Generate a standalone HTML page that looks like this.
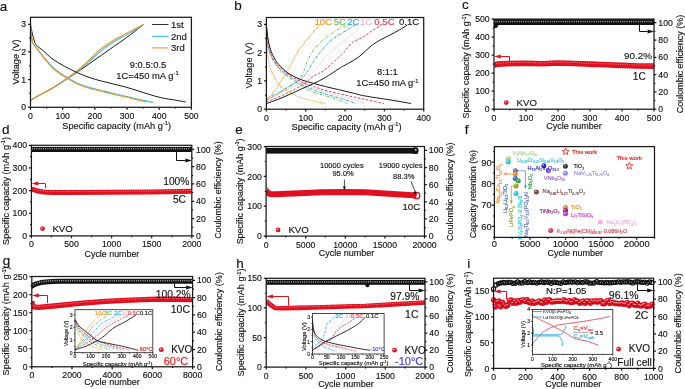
<!DOCTYPE html>
<html><head><meta charset="utf-8"><style>
html,body{margin:0;padding:0;background:#fff;width:685px;height:389px;overflow:hidden}
svg{display:block;will-change:transform}
text{font-family:"Liberation Sans", sans-serif;stroke:currentColor;stroke-width:0.15px;paint-order:stroke}
</style></head><body>
<svg width="685" height="389" viewBox="0 0 685 389">
<rect width="685" height="389" fill="#fff"/>
<text x="-0.3" y="10.8" font-size="13.5" text-anchor="start" fill="#111" color="#111" >a</text>
<text x="234.3" y="10.3" font-size="13.5" text-anchor="start" fill="#111" color="#111" >b</text>
<text x="462" y="8.8" font-size="13.5" text-anchor="start" fill="#111" color="#111" >c</text>
<text x="2" y="133.8" font-size="13.5" text-anchor="start" fill="#111" color="#111" >d</text>
<text x="235.2" y="134" font-size="13.5" text-anchor="start" fill="#111" color="#111" >e</text>
<text x="464.8" y="133.7" font-size="13.5" text-anchor="start" fill="#111" color="#111" >f</text>
<text x="2.8" y="265" font-size="13.5" text-anchor="start" fill="#111" color="#111" >g</text>
<text x="236.3" y="267.6" font-size="13.5" text-anchor="start" fill="#111" color="#111" >h</text>
<text x="467.2" y="268" font-size="13.5" text-anchor="start" fill="#111" color="#111" >i</text>
<path d="M30.5 100.38 C32.11 99.46 36.51 96.88 40.15 94.85 C43.8 92.82 48.31 90.61 52.38 88.21 C56.46 85.81 60.53 83.09 64.61 80.46 C68.69 77.83 72.76 75.2 76.84 72.44 C80.92 69.67 84.99 66.72 89.07 63.86 C93.14 61 97.22 58.14 101.3 55.28 C105.37 52.42 109.45 49.56 113.52 46.7 C117.6 43.85 122.16 40.71 125.75 38.13 C129.35 35.54 132.24 33.42 135.09 31.21 C137.93 29 141.52 25.91 142.81 24.85" stroke="#1a1a1a" stroke-width="1.0" fill="none" stroke-linejoin="round" />
<path d="M30.5 100.38 C32.11 99.46 36.51 96.88 40.15 94.85 C43.8 92.82 48.31 90.61 52.38 88.21 C56.46 85.81 60.53 83.14 64.61 80.46 C68.69 77.79 72.76 75.3 76.84 72.16 C80.92 69.02 84.99 65.24 89.07 61.65 C93.14 58.05 97.22 53.85 101.3 50.58 C105.37 47.3 109.45 44.54 113.52 42 C117.6 39.46 121.89 37.53 125.75 35.36 C129.61 33.19 133.64 30.79 136.69 29 C139.75 27.2 142.86 25.31 144.1 24.57" stroke="#33bbee" stroke-width="1.1" fill="none" stroke-linejoin="round" />
<path d="M30.5 100.38 C32.11 99.46 36.51 96.92 40.15 94.85 C43.8 92.77 48.31 90.42 52.38 87.93 C56.46 85.44 60.53 82.72 64.61 79.91 C68.69 77.09 72.76 74.37 76.84 71.05 C80.92 67.73 84.99 63.72 89.07 59.99 C93.14 56.25 97.22 51.92 101.3 48.64 C105.37 45.37 109.45 42.83 113.52 40.34 C117.6 37.85 121.89 35.77 125.75 33.7 C129.61 31.62 133.8 29.41 136.69 27.89 C139.59 26.37 142.06 25.12 143.13 24.57" stroke="#f7941d" stroke-width="1.1" fill="none" stroke-linejoin="round" />
<path d="M30.5 24.85 C30.82 26.37 31.79 31.3 32.43 33.98 C33.07 36.65 33.66 38.96 34.36 40.89 C35.06 42.83 35.22 44.03 36.61 45.6 C38.01 47.17 40.1 48.09 42.73 50.3 C45.36 52.51 48.74 56.2 52.38 58.88 C56.03 61.55 60.53 64.09 64.61 66.35 C68.69 68.61 72.76 70.59 76.84 72.44 C80.92 74.28 84.99 75.99 89.07 77.42 C93.14 78.85 97.22 79.91 101.3 81.01 C105.37 82.12 109.45 83.04 113.52 84.06 C117.6 85.07 121.89 86.04 125.75 87.1 C129.61 88.16 132.99 89.27 136.69 90.42 C140.39 91.57 143.77 92.77 147.96 94.02 C152.14 95.26 157.24 96.88 161.79 97.89 C166.35 98.91 171.34 99.41 175.31 100.11 C179.28 100.8 183.89 101.72 185.61 102.04" stroke="#1a1a1a" stroke-width="1.0" fill="none" stroke-linejoin="round" />
<path d="M30.5 24.85 C30.61 26.14 30.93 30.15 31.14 32.59 C31.36 35.04 31.47 37.67 31.79 39.51 C32.11 41.35 32.48 42.46 33.07 43.66 C33.66 44.86 33.72 44.68 35.33 46.7 C36.94 48.73 39.89 52.47 42.73 55.84 C45.57 59.2 48.74 63.54 52.38 66.9 C56.03 70.27 60.53 73.36 64.61 76.03 C68.69 78.71 72.76 81.06 76.84 82.95 C80.92 84.84 84.99 86.13 89.07 87.38 C93.14 88.62 97.22 89.41 101.3 90.42 C105.37 91.44 109.45 92.5 113.52 93.47 C117.6 94.43 121.35 95.22 125.75 96.23 C130.15 97.25 135.35 98.54 139.91 99.55 C144.47 100.57 150.91 101.86 153.11 102.32" stroke="#33bbee" stroke-width="1.1" fill="none" stroke-linejoin="round" />
<path d="M30.5 24.85 C30.61 26.04 30.93 29.83 31.14 32.04 C31.36 34.25 31.47 36.28 31.79 38.13 C32.11 39.97 32.48 41.72 33.07 43.11 C33.66 44.49 33.72 44.21 35.33 46.43 C36.94 48.64 39.89 52.84 42.73 56.39 C45.57 59.94 48.74 64.32 52.38 67.73 C56.03 71.15 60.53 74.19 64.61 76.86 C68.69 79.54 72.76 81.89 76.84 83.78 C80.92 85.67 84.99 86.96 89.07 88.21 C93.14 89.45 97.22 90.24 101.3 91.25 C105.37 92.27 109.45 93.33 113.52 94.3 C117.6 95.26 121.89 96.14 125.75 97.06 C129.61 97.98 133.15 99 136.69 99.83 C140.23 100.66 145.28 101.67 146.99 102.04" stroke="#f7941d" stroke-width="1.1" fill="none" stroke-linejoin="round" />
<path d="M30.5 107.3v2.4M62.68 107.3v2.4M94.86 107.3v2.4M127.04 107.3v2.4M159.22 107.3v2.4M191.4 107.3v2.4M46.59 107.3v1.3M78.77 107.3v1.3M110.95 107.3v1.3M143.13 107.3v1.3M175.31 107.3v1.3M30.5 107.3h-2.4M30.5 79.63h-2.4M30.5 51.96h-2.4M30.5 24.29h-2.4M30.5 93.47h-1.3M30.5 65.8h-1.3M30.5 38.13h-1.3" stroke="#1a1a1a" stroke-width="1.25" fill="none"/>
<rect x="30.5" y="17.3" width="160.9" height="90" stroke="#1a1a1a" stroke-width="1.25" fill="none"/>
<text x="30.5" y="118.7" font-size="8.7" text-anchor="middle" fill="#151515" color="#151515" >0</text>
<text x="62.68" y="118.7" font-size="8.7" text-anchor="middle" fill="#151515" color="#151515" >100</text>
<text x="94.86" y="118.7" font-size="8.7" text-anchor="middle" fill="#151515" color="#151515" >200</text>
<text x="127.04" y="118.7" font-size="8.7" text-anchor="middle" fill="#151515" color="#151515" >300</text>
<text x="159.22" y="118.7" font-size="8.7" text-anchor="middle" fill="#151515" color="#151515" >400</text>
<text x="191.4" y="118.7" font-size="8.7" text-anchor="middle" fill="#151515" color="#151515" >500</text>
<text x="26.2" y="110.43" font-size="8.7" text-anchor="end" fill="#151515" color="#151515" >0</text>
<text x="26.2" y="82.76" font-size="8.7" text-anchor="end" fill="#151515" color="#151515" >1</text>
<text x="26.2" y="55.09" font-size="8.7" text-anchor="end" fill="#151515" color="#151515" >2</text>
<text x="26.2" y="27.42" font-size="8.7" text-anchor="end" fill="#151515" color="#151515" >3</text>
<text x="116.65" y="128.8" font-size="9.2" text-anchor="middle" fill="#151515" color="#151515" >Specific capacity (mAh g<tspan dy="-3.50" font-size="5.70">-1</tspan><tspan dy="3.50">)</tspan></text>
<text transform="translate(18.6 61.9) rotate(-90)" font-size="9.1" text-anchor="middle" fill="#151515" color="#151515">Voltage (V)</text>
<path d="M152 24.5h16.5" stroke="#1a1a1a" stroke-width="0.9"/>
<text x="171" y="27.8" font-size="9.5" text-anchor="start" fill="#151515" color="#151515" >1st</text>
<path d="M152 36.3h16.5" stroke="#33bbee" stroke-width="1.1"/>
<text x="171" y="39.6" font-size="9.5" text-anchor="start" fill="#151515" color="#151515" >2nd</text>
<path d="M152 47.9h16.5" stroke="#f9a85a" stroke-width="1.4"/>
<text x="171" y="51.2" font-size="9.5" text-anchor="start" fill="#151515" color="#151515" >3rd</text>
<text x="148" y="67.7" font-size="9.4" text-anchor="middle" fill="#151515" color="#151515" >9:0.5:0.5</text>
<text x="147.5" y="79" font-size="9.4" text-anchor="middle" fill="#151515" color="#151515" >1C=450 mA g<tspan dy="-3.57" font-size="5.83">-1</tspan></text>
<path d="M266.4 101.28 C267.19 100.24 269.37 97.31 271.12 95.05 C272.87 92.79 275.06 90.29 276.9 87.69 C278.73 85.1 280.31 82.41 282.13 79.49 C283.95 76.56 286 73.31 287.83 70.15 C289.67 66.99 291.34 63.78 293.14 60.52 C294.94 57.27 296.81 53.54 298.65 50.62 C300.48 47.69 302.32 45.34 304.15 42.98 C305.99 40.62 307.95 38.54 309.66 36.47 C311.36 34.39 312.93 32.18 314.38 30.53 C315.82 28.88 317.33 27.6 318.31 26.56 C319.29 25.53 319.95 24.68 320.28 24.3" stroke="#f7941d" stroke-width="1.1" fill="none" stroke-linejoin="round" stroke-dasharray="0.1 1.9" stroke-linecap="round"/>
<path d="M266.4 25.15 C266.45 27.37 266.58 34.82 266.71 38.45 C266.85 42.08 266.81 42.93 267.19 46.94 C267.57 50.95 268.34 58.64 269 62.51 C269.65 66.37 270.31 67.88 271.12 70.15 C271.93 72.41 272.17 73.21 273.87 76.09 C275.58 78.97 278 84.3 281.34 87.41 C284.69 90.52 290.19 92.93 293.93 94.77 C297.66 96.61 300.45 97.41 303.76 98.45 C307.07 99.48 310.31 100.14 313.79 100.99 C317.26 101.84 322.8 103.12 324.6 103.54" stroke="#f7941d" stroke-width="1.1" fill="none" stroke-linejoin="round" stroke-dasharray="0.1 1.9" stroke-linecap="round"/>
<path d="M266.4 98.73 C268.04 97.88 272.5 95.52 276.23 93.64 C279.97 91.75 284.62 90.33 288.82 87.41 C293.01 84.48 298.25 80.66 301.4 76.09 C304.55 71.51 305.63 64.34 307.69 59.96 C309.76 55.57 311.82 52.55 313.79 49.77 C315.75 46.99 317.42 45.34 319.49 43.26 C321.55 41.19 324.01 39.06 326.17 37.32 C328.34 35.57 330.37 34.21 332.47 32.79 C334.56 31.38 336.66 29.91 338.76 28.83 C340.86 27.74 342.98 27.04 345.05 26.28 C347.12 25.53 350.16 24.63 351.18 24.3" stroke="#6cbd45" stroke-width="1.0" fill="none" stroke-linejoin="round" stroke-dasharray="2.6 1 0.6 1 0.6 1" />
<path d="M266.4 25.15 C266.53 27.37 266.86 34.58 267.19 38.45 C267.51 42.32 267.65 45.2 268.37 48.36 C269.09 51.52 270.16 54.44 271.51 57.41 C272.87 60.38 274.74 63.68 276.51 66.18 C278.28 68.68 280.08 70.57 282.13 72.41 C284.18 74.25 285.6 74.96 288.82 77.22 C292.03 79.49 297.24 83.49 301.4 85.99 C305.56 88.49 309.66 90.57 313.79 92.22 C317.92 93.87 322.27 94.72 326.17 95.9 C330.07 97.08 333.65 98.02 337.19 99.3 C340.72 100.57 345.71 102.83 347.41 103.54" stroke="#6cbd45" stroke-width="1.0" fill="none" stroke-linejoin="round" stroke-dasharray="2.6 1 0.6 1 0.6 1" />
<path d="M266.4 100.14 C268.37 99.06 274.46 95.95 278.2 93.64 C281.93 91.32 284.95 88.73 288.82 86.28 C292.68 83.82 298.25 81.47 301.4 78.92 C304.55 76.37 305.63 73.97 307.69 71 C309.76 68.02 311.75 64.16 313.79 61.09 C315.82 58.02 317.82 55.29 319.88 52.6 C321.95 49.91 324.08 47.18 326.17 44.96 C328.27 42.74 330.37 40.95 332.47 39.3 C334.56 37.65 336.33 36.61 338.76 35.05 C341.18 33.5 344.07 31.75 347.02 29.96 C349.97 28.17 354.88 25.24 356.45 24.3" stroke="#27a9e1" stroke-width="1.0" fill="none" stroke-linejoin="round" stroke-dasharray="2.8 1 0.7 1" />
<path d="M266.4 25.15 C266.53 27.13 266.86 33.4 267.19 37.04 C267.51 40.67 267.65 43.69 268.37 46.94 C269.09 50.19 270.16 53.54 271.51 56.56 C272.87 59.58 274.74 62.65 276.51 65.05 C278.28 67.46 280.08 69.16 282.13 71 C284.18 72.83 285.6 73.87 288.82 76.09 C292.03 78.31 297.24 81.98 301.4 84.3 C305.56 86.61 309.66 88.31 313.79 89.96 C317.92 91.61 321.62 92.79 326.17 94.2 C330.73 95.62 336.14 96.89 341.12 98.45 C346.1 100 353.57 102.69 356.06 103.54" stroke="#27a9e1" stroke-width="1.0" fill="none" stroke-linejoin="round" stroke-dasharray="2.8 1 0.7 1" />
<path d="M266.4 100.71 C269.02 99.3 276.3 95.24 282.13 92.22 C287.96 89.2 297.14 84.96 301.4 82.6 C305.66 80.24 305.63 79.96 307.69 78.07 C309.76 76.18 311.75 73.64 313.79 71.28 C315.82 68.92 317.82 66.47 319.88 63.92 C321.95 61.37 324.08 58.26 326.17 56 C328.27 53.73 330.37 52.18 332.47 50.34 C334.56 48.5 336.33 46.94 338.76 44.96 C341.18 42.98 344.33 40.71 347.02 38.45 C349.7 36.19 352.33 33.73 354.88 31.38 C357.44 29.02 361.11 25.48 362.35 24.3" stroke="#f6b4d0" stroke-width="1.0" fill="none" stroke-linejoin="round" stroke-dasharray="0.1 1.6" stroke-linecap="round"/>
<path d="M266.4 25.15 C266.53 26.99 266.86 32.79 267.19 36.19 C267.51 39.58 267.65 42.22 268.37 45.53 C269.09 48.83 270.16 52.84 271.51 56 C272.87 59.16 274.74 62.13 276.51 64.49 C278.28 66.84 280.08 68.35 282.13 70.15 C284.18 71.94 285.6 73.12 288.82 75.24 C292.03 77.36 297.24 80.71 301.4 82.88 C305.56 85.05 309.66 86.7 313.79 88.26 C317.92 89.81 320.96 90.71 326.17 92.22 C331.38 93.73 338.69 95.52 345.05 97.31 C351.41 99.11 361.11 102.03 364.32 102.97" stroke="#f6b4d0" stroke-width="1.0" fill="none" stroke-linejoin="round" stroke-dasharray="0.1 1.6" stroke-linecap="round"/>
<path d="M266.4 102.13 C269.68 100.71 280.16 96.47 286.06 93.64 C291.96 90.81 297.17 88.07 301.79 85.15 C306.41 82.22 310.77 78.12 313.79 76.09 C316.8 74.06 317.82 74.2 319.88 72.98 C321.95 71.75 324.08 70.38 326.17 68.73 C328.27 67.08 330.37 64.96 332.47 63.07 C334.56 61.18 336.88 59.16 338.76 57.41 C340.63 55.67 341.42 55.1 343.71 52.6 C346.01 50.1 349.48 44.91 352.52 42.41 C355.56 39.91 358.62 39.58 361.96 37.6 C365.3 35.62 369.17 32.74 372.58 30.53 C375.99 28.31 380.77 25.34 382.41 24.3" stroke="#e5404f" stroke-width="1.0" fill="none" stroke-linejoin="round" stroke-dasharray="2.6 1.6" />
<path d="M266.4 25.15 C266.53 26.89 266.86 32.37 267.19 35.62 C267.51 38.87 267.65 41.37 268.37 44.68 C269.09 47.98 270.16 52.22 271.51 55.43 C272.87 58.64 274.74 61.61 276.51 63.92 C278.28 66.23 280.08 67.5 282.13 69.3 C284.18 71.09 285.6 72.6 288.82 74.67 C292.03 76.75 297.24 79.77 301.4 81.75 C305.56 83.73 309.66 85.1 313.79 86.56 C317.92 88.02 320.96 89.11 326.17 90.52 C331.38 91.94 338.63 93.59 345.05 95.05 C351.47 96.51 358.22 97.88 364.71 99.3 C371.2 100.71 380.77 102.83 383.98 103.54" stroke="#e5404f" stroke-width="1.0" fill="none" stroke-linejoin="round" stroke-dasharray="2.6 1.6" />
<path d="M266.4 103.54 C268.37 102.83 274.46 100.76 278.2 99.3 C281.93 97.83 284.88 96.51 288.82 94.77 C292.75 93.02 297.63 90.71 301.79 88.82 C305.95 86.94 309.85 85.33 313.79 83.45 C317.72 81.56 321.23 79.96 325.39 77.5 C329.55 75.05 335.71 70.67 338.76 68.73 C341.81 66.8 341.25 67.27 343.67 65.9 C346.1 64.53 350.59 62.18 353.31 60.52 C356.03 58.87 357.9 57.65 359.99 56 C362.09 54.35 363.83 52.46 365.89 50.62 C367.96 48.78 369.96 46.75 372.38 44.96 C374.81 43.17 377.53 41.52 380.44 39.87 C383.36 38.21 386.73 36.71 389.88 35.05 C393.03 33.4 396.43 31.61 399.32 29.96 C402.2 28.31 405.87 25.95 407.18 25.15" stroke="#1a1a1a" stroke-width="1.0" fill="none" stroke-linejoin="round" />
<path d="M266.4 25.15 C266.6 26.89 267.15 32.46 267.58 35.62 C268.01 38.78 268.41 41.52 269 44.11 C269.59 46.7 270.31 48.97 271.12 51.19 C271.93 53.4 272.56 55.15 273.87 57.41 C275.18 59.68 276.49 62.08 278.98 64.77 C281.47 67.46 285.08 71.04 288.82 73.54 C292.55 76.04 297.24 78.12 301.4 79.77 C305.56 81.42 309.79 82.32 313.79 83.45 C317.78 84.58 321.23 85.52 325.39 86.56 C329.55 87.6 334.17 88.59 338.76 89.67 C343.35 90.76 348.59 92.03 352.91 93.07 C357.24 94.11 358.55 94.77 364.71 95.9 C370.87 97.03 382.15 98.59 389.88 99.86 C397.61 101.13 407.58 102.93 411.12 103.54" stroke="#1a1a1a" stroke-width="1.0" fill="none" stroke-linejoin="round" />
<path d="M266.4 109.2v2.4M305.72 109.2v2.4M345.05 109.2v2.4M384.38 109.2v2.4M423.7 109.2v2.4M286.06 109.2v1.3M325.39 109.2v1.3M364.71 109.2v1.3M404.04 109.2v1.3M266.4 109.2h-2.4M266.4 80.9h-2.4M266.4 52.6h-2.4M266.4 24.3h-2.4M266.4 95.05h-1.3M266.4 66.75h-1.3M266.4 38.45h-1.3" stroke="#1a1a1a" stroke-width="1.25" fill="none"/>
<rect x="266.4" y="17.5" width="157.3" height="91.7" stroke="#1a1a1a" stroke-width="1.25" fill="none"/>
<text x="266.4" y="120.6" font-size="8.7" text-anchor="middle" fill="#151515" color="#151515" >0</text>
<text x="305.72" y="120.6" font-size="8.7" text-anchor="middle" fill="#151515" color="#151515" >100</text>
<text x="345.05" y="120.6" font-size="8.7" text-anchor="middle" fill="#151515" color="#151515" >200</text>
<text x="384.38" y="120.6" font-size="8.7" text-anchor="middle" fill="#151515" color="#151515" >300</text>
<text x="423.7" y="120.6" font-size="8.7" text-anchor="middle" fill="#151515" color="#151515" >400</text>
<text x="262.1" y="112.33" font-size="8.7" text-anchor="end" fill="#151515" color="#151515" >0</text>
<text x="262.1" y="84.03" font-size="8.7" text-anchor="end" fill="#151515" color="#151515" >1</text>
<text x="262.1" y="55.73" font-size="8.7" text-anchor="end" fill="#151515" color="#151515" >2</text>
<text x="262.1" y="27.43" font-size="8.7" text-anchor="end" fill="#151515" color="#151515" >3</text>
<text x="346.6" y="129.7" font-size="9.3" text-anchor="middle" fill="#151515" color="#151515" >Specific capacity (mAh g<tspan dy="-3.53" font-size="5.77">-1</tspan><tspan dy="3.53">)</tspan></text>
<text transform="translate(251.6 65.45) rotate(-90)" font-size="9.3" text-anchor="middle" fill="#151515" color="#151515">Voltage (V)</text>
<text x="314.4" y="25.4" font-size="9.6" text-anchor="start" fill="#f7941d" color="#f7941d" >10C</text>
<text x="333.7" y="25.4" font-size="9.6" text-anchor="start" fill="#6cbd45" color="#6cbd45" >5C</text>
<text x="347.2" y="25.4" font-size="9.6" text-anchor="start" fill="#27a9e1" color="#27a9e1" >2C</text>
<text x="360" y="25.4" font-size="9.6" text-anchor="start" fill="#f6b4d0" color="#f6b4d0" >1C</text>
<text x="374.3" y="25.4" font-size="9.6" text-anchor="start" fill="#e5404f" color="#e5404f" >0.5C</text>
<text x="399" y="25.4" font-size="9.6" text-anchor="start" fill="#1a1a1a" color="#1a1a1a" >0.1C</text>
<text x="387.4" y="74.9" font-size="9.4" text-anchor="middle" fill="#151515" color="#151515" >8:1:1</text>
<text x="387.4" y="86.1" font-size="9.4" text-anchor="middle" fill="#151515" color="#151515" >1C=450 mA g<tspan dy="-3.57" font-size="5.83">-1</tspan></text>
<rect x="494" y="19.1" width="160" height="5.9" fill="#111"/>
<path d="M495.1 20.9v1.4M497.3 20.9v1.4M499.5 20.9v1.4M501.7 20.9v1.4M503.9 20.9v1.4M506.1 20.9v1.4M508.3 20.9v1.4M510.5 20.9v1.4M512.7 20.9v1.4M514.9 20.9v1.4M517.1 20.9v1.4M519.3 20.9v1.4M521.5 20.9v1.4M523.7 20.9v1.4M525.9 20.9v1.4M528.1 20.9v1.4M530.3 20.9v1.4M532.5 20.9v1.4M534.7 20.9v1.4M536.9 20.9v1.4M539.1 20.9v1.4M541.3 20.9v1.4M543.5 20.9v1.4M545.7 20.9v1.4M547.9 20.9v1.4M550.1 20.9v1.4M552.3 20.9v1.4M554.5 20.9v1.4M556.7 20.9v1.4M558.9 20.9v1.4M561.1 20.9v1.4M563.3 20.9v1.4M565.5 20.9v1.4M567.7 20.9v1.4M569.9 20.9v1.4M572.1 20.9v1.4M574.3 20.9v1.4M576.5 20.9v1.4M578.7 20.9v1.4M580.9 20.9v1.4M583.1 20.9v1.4M585.3 20.9v1.4M587.5 20.9v1.4M589.7 20.9v1.4M591.9 20.9v1.4M594.1 20.9v1.4M596.3 20.9v1.4M598.5 20.9v1.4M600.7 20.9v1.4M602.9 20.9v1.4M605.1 20.9v1.4M607.3 20.9v1.4M609.5 20.9v1.4M611.7 20.9v1.4M613.9 20.9v1.4M616.1 20.9v1.4M618.3 20.9v1.4M620.5 20.9v1.4M622.7 20.9v1.4M624.9 20.9v1.4M627.1 20.9v1.4M629.3 20.9v1.4M631.5 20.9v1.4M633.7 20.9v1.4M635.9 20.9v1.4M638.1 20.9v1.4M640.3 20.9v1.4M642.5 20.9v1.4M644.7 20.9v1.4M646.9 20.9v1.4M649.1 20.9v1.4M651.3 20.9v1.4" stroke="#b0b0b0" stroke-width="1" fill="none"/>
<path d="M494 24 L494 27.9 L496.3 27.9 Q498.3 27.3 498.6 24.2 Z" fill="#111"/>
<clipPath id="cp1"><rect x="494" y="19.1" width="160" height="90.1"/></clipPath><g clip-path="url(#cp1)">
<path d="M494 65.23 L497.2 64.15 L506.8 63.61 L526 63.25 L542 63.79 L558 63.07 L574 63.43 L590 64.15 L606 64.69 L622 65.41 L638 65.95 L654 66.13" stroke="#e01020" stroke-width="5.6" fill="none" stroke-linejoin="round" stroke-linecap="butt"/>
<path d="M494 64.33 L497.2 63.25 L506.8 62.71 L526 62.35 L542 62.89 L558 62.17 L574 62.53 L590 63.25 L606 63.79 L622 64.51 L638 65.05 L654 65.23" stroke="#f6b0b0" stroke-width="0.9" stroke-dasharray="0.9 1.4" fill="none" opacity="0.9"/>
</g>
<path d="M639.5 25V31.5H647.6" stroke="#111" stroke-width="1.0" fill="none"/>
<path d="M654 31.5L647.6 29.5L647.6 33.5Z" fill="#111"/>
<path d="M500.9 56.5H509.5V62" stroke="#e01020" stroke-width="1.0" fill="none"/>
<path d="M494.1 56.5L500.9 54.5L500.9 58.5Z" fill="#e01020"/>
<path d="M494 109.2v2.4M526 109.2v2.4M558 109.2v2.4M590 109.2v2.4M622 109.2v2.4M654 109.2v2.4M510 109.2v1.3M542 109.2v1.3M574 109.2v1.3M606 109.2v1.3M638 109.2v1.3M494 109.2h-2.4M494 91.18h-2.4M494 73.16h-2.4M494 55.14h-2.4M494 37.12h-2.4M494 19.1h-2.4M494 100.19h-1.3M494 82.17h-1.3M494 64.15h-1.3M494 46.13h-1.3M494 28.11h-1.3M654 109.2h2.4M654 91.91h2.4M654 74.61h2.4M654 57.32h2.4M654 40.03h2.4M654 22.73h2.4M654 100.55h1.3M654 83.26h1.3M654 65.97h1.3M654 48.67h1.3M654 31.38h1.3" stroke="#1a1a1a" stroke-width="1.25" fill="none"/>
<rect x="494" y="19.1" width="160" height="90.1" stroke="#1a1a1a" stroke-width="1.25" fill="none"/>
<text x="494" y="120.6" font-size="8.7" text-anchor="middle" fill="#151515" color="#151515" >0</text>
<text x="526" y="120.6" font-size="8.7" text-anchor="middle" fill="#151515" color="#151515" >100</text>
<text x="558" y="120.6" font-size="8.7" text-anchor="middle" fill="#151515" color="#151515" >200</text>
<text x="590" y="120.6" font-size="8.7" text-anchor="middle" fill="#151515" color="#151515" >300</text>
<text x="622" y="120.6" font-size="8.7" text-anchor="middle" fill="#151515" color="#151515" >400</text>
<text x="654" y="120.6" font-size="8.7" text-anchor="middle" fill="#151515" color="#151515" >500</text>
<text x="489.7" y="112.33" font-size="8.7" text-anchor="end" fill="#151515" color="#151515" >0</text>
<text x="489.7" y="94.31" font-size="8.7" text-anchor="end" fill="#151515" color="#151515" >100</text>
<text x="489.7" y="76.29" font-size="8.7" text-anchor="end" fill="#151515" color="#151515" >200</text>
<text x="489.7" y="58.27" font-size="8.7" text-anchor="end" fill="#151515" color="#151515" >300</text>
<text x="489.7" y="40.25" font-size="8.7" text-anchor="end" fill="#151515" color="#151515" >400</text>
<text x="489.7" y="22.23" font-size="8.7" text-anchor="end" fill="#151515" color="#151515" >500</text>
<text x="658.3" y="112.33" font-size="8.7" text-anchor="start" fill="#151515" color="#151515" >0</text>
<text x="658.3" y="95.04" font-size="8.7" text-anchor="start" fill="#151515" color="#151515" >20</text>
<text x="658.3" y="77.74" font-size="8.7" text-anchor="start" fill="#151515" color="#151515" >40</text>
<text x="658.3" y="60.45" font-size="8.7" text-anchor="start" fill="#151515" color="#151515" >60</text>
<text x="658.3" y="43.16" font-size="8.7" text-anchor="start" fill="#151515" color="#151515" >80</text>
<text x="658.3" y="25.86" font-size="8.7" text-anchor="start" fill="#151515" color="#151515" >100</text>
<text x="638" y="59.4" font-size="9.9" text-anchor="middle" fill="#151515" color="#151515" >90.2%</text>
<text x="639.3" y="79.7" font-size="10.2" text-anchor="middle" fill="#151515" color="#151515" >1C</text>
<circle cx="506.2" cy="102.6" r="2.4" fill="#e01020"/>
<circle cx="505.6" cy="102" r="0.84" fill="#f7c0c0"/>
<text x="516.6" y="105.8" font-size="9.6" text-anchor="start" fill="#151515" color="#151515" >KVO</text>
<text x="574" y="128.9" font-size="9.0" text-anchor="middle" fill="#151515" color="#151515" >Cycle number</text>
<text transform="translate(469 66) rotate(-90)" font-size="8.9" text-anchor="middle" fill="#151515" color="#151515">Specific capacity (mAh g<tspan dy="-3.38" font-size="5.52">-1</tspan><tspan dy="3.38">)</tspan></text>
<text transform="translate(683 64) rotate(-90)" font-size="8.96" text-anchor="middle" fill="#151515" color="#151515">Coulombic efficiency (%)</text>
<rect x="31.4" y="146.9" width="160.4" height="5.1" fill="#111"/>
<path d="M32.5 148v1.4M34.7 148v1.4M36.9 148v1.4M39.1 148v1.4M41.3 148v1.4M43.5 148v1.4M45.7 148v1.4M47.9 148v1.4M50.1 148v1.4M52.3 148v1.4M54.5 148v1.4M56.7 148v1.4M58.9 148v1.4M61.1 148v1.4M63.3 148v1.4M65.5 148v1.4M67.7 148v1.4M69.9 148v1.4M72.1 148v1.4M74.3 148v1.4M76.5 148v1.4M78.7 148v1.4M80.9 148v1.4M83.1 148v1.4M85.3 148v1.4M87.5 148v1.4M89.7 148v1.4M91.9 148v1.4M94.1 148v1.4M96.3 148v1.4M98.5 148v1.4M100.7 148v1.4M102.9 148v1.4M105.1 148v1.4M107.3 148v1.4M109.5 148v1.4M111.7 148v1.4M113.9 148v1.4M116.1 148v1.4M118.3 148v1.4M120.5 148v1.4M122.7 148v1.4M124.9 148v1.4M127.1 148v1.4M129.3 148v1.4M131.5 148v1.4M133.7 148v1.4M135.9 148v1.4M138.1 148v1.4M140.3 148v1.4M142.5 148v1.4M144.7 148v1.4M146.9 148v1.4M149.1 148v1.4M151.3 148v1.4M153.5 148v1.4M155.7 148v1.4M157.9 148v1.4M160.1 148v1.4M162.3 148v1.4M164.5 148v1.4M166.7 148v1.4M168.9 148v1.4M171.1 148v1.4M173.3 148v1.4M175.5 148v1.4M177.7 148v1.4M179.9 148v1.4M182.1 148v1.4M184.3 148v1.4M186.5 148v1.4M188.7 148v1.4" stroke="#b0b0b0" stroke-width="1" fill="none"/>
<clipPath id="cp2"><rect x="31.4" y="145.3" width="160.4" height="90.6"/></clipPath><g clip-path="url(#cp2)">
<path d="M31.4 189.24 L33.81 189.69 L37.82 191.05 L43.43 192.07 L51.45 192.41 L71.5 192.41 L111.6 192.3 L151.7 191.96 L191.8 191.28" stroke="#e01020" stroke-width="5.0" fill="none" stroke-linejoin="round" stroke-linecap="butt"/>
<path d="M31.4 188.34 L33.81 188.79 L37.82 190.15 L43.43 191.17 L51.45 191.51 L71.5 191.51 L111.6 191.4 L151.7 191.06 L191.8 190.38" stroke="#f6b0b0" stroke-width="0.9" stroke-dasharray="0.9 1.4" fill="none" opacity="0.9"/>
</g>
<path d="M176.5 151.6V160.5H185.4" stroke="#111" stroke-width="1.0" fill="none"/>
<path d="M191.8 160.5L185.4 158.5L185.4 162.5Z" fill="#111"/>
<path d="M38.4 183.5H45.5V188" stroke="#e01020" stroke-width="1.0" fill="none"/>
<path d="M31.6 183.5L38.4 181.5L38.4 185.5Z" fill="#e01020"/>
<path d="M31.4 235.9v2.4M71.5 235.9v2.4M111.6 235.9v2.4M151.7 235.9v2.4M191.8 235.9v2.4M51.45 235.9v1.3M91.55 235.9v1.3M131.65 235.9v1.3M171.75 235.9v1.3M31.4 235.9h-2.4M31.4 213.25h-2.4M31.4 190.6h-2.4M31.4 167.95h-2.4M31.4 145.3h-2.4M31.4 224.58h-1.3M31.4 201.93h-1.3M31.4 179.28h-1.3M31.4 156.62h-1.3M191.8 235.9h2.4M191.8 218.59h2.4M191.8 201.29h2.4M191.8 183.98h2.4M191.8 166.67h2.4M191.8 149.37h2.4M191.8 227.25h1.3M191.8 209.94h1.3M191.8 192.63h1.3M191.8 175.33h1.3M191.8 158.02h1.3" stroke="#1a1a1a" stroke-width="1.25" fill="none"/>
<rect x="31.4" y="145.3" width="160.4" height="90.6" stroke="#1a1a1a" stroke-width="1.25" fill="none"/>
<text x="31.4" y="247.3" font-size="8.7" text-anchor="middle" fill="#151515" color="#151515" >0</text>
<text x="71.5" y="247.3" font-size="8.7" text-anchor="middle" fill="#151515" color="#151515" >500</text>
<text x="111.6" y="247.3" font-size="8.7" text-anchor="middle" fill="#151515" color="#151515" >1000</text>
<text x="151.7" y="247.3" font-size="8.7" text-anchor="middle" fill="#151515" color="#151515" >1500</text>
<text x="191.8" y="247.3" font-size="8.7" text-anchor="middle" fill="#151515" color="#151515" >2000</text>
<text x="27.1" y="239.03" font-size="8.7" text-anchor="end" fill="#151515" color="#151515" >0</text>
<text x="27.1" y="216.38" font-size="8.7" text-anchor="end" fill="#151515" color="#151515" >100</text>
<text x="27.1" y="193.73" font-size="8.7" text-anchor="end" fill="#151515" color="#151515" >200</text>
<text x="27.1" y="171.08" font-size="8.7" text-anchor="end" fill="#151515" color="#151515" >300</text>
<text x="27.1" y="148.43" font-size="8.7" text-anchor="end" fill="#151515" color="#151515" >400</text>
<text x="196.1" y="239.03" font-size="8.7" text-anchor="start" fill="#151515" color="#151515" >0</text>
<text x="196.1" y="221.73" font-size="8.7" text-anchor="start" fill="#151515" color="#151515" >20</text>
<text x="196.1" y="204.42" font-size="8.7" text-anchor="start" fill="#151515" color="#151515" >40</text>
<text x="196.1" y="187.11" font-size="8.7" text-anchor="start" fill="#151515" color="#151515" >60</text>
<text x="196.1" y="169.81" font-size="8.7" text-anchor="start" fill="#151515" color="#151515" >80</text>
<text x="196.1" y="152.5" font-size="8.7" text-anchor="start" fill="#151515" color="#151515" >100</text>
<text x="176.3" y="185" font-size="10.2" text-anchor="middle" fill="#151515" color="#151515" >100%</text>
<text x="179.4" y="203" font-size="10.2" text-anchor="middle" fill="#151515" color="#151515" >5C</text>
<circle cx="42.5" cy="228.6" r="2.4" fill="#e01020"/>
<circle cx="41.9" cy="228" r="0.84" fill="#f7c0c0"/>
<text x="52.4" y="232.4" font-size="9.6" text-anchor="start" fill="#151515" color="#151515" >KVO</text>
<text x="111.95" y="257.3" font-size="8.9" text-anchor="middle" fill="#151515" color="#151515" >Cycle number</text>
<text transform="translate(8.8 190.95) rotate(-90)" font-size="9.14" text-anchor="middle" fill="#151515" color="#151515">Specific capacity (mAh g<tspan dy="-3.47" font-size="5.67">-1</tspan><tspan dy="3.47">)</tspan></text>
<text transform="translate(221 190) rotate(-90)" font-size="8.87" text-anchor="middle" fill="#151515" color="#151515">Coulombic efficiency (%)</text>
<rect x="266.1" y="147.9" width="151.9" height="5.7" fill="#111"/>
<path d="M267.2 150v1.4M269.4 150v1.4M271.6 150v1.4M273.8 150v1.4M276 150v1.4M278.2 150v1.4M280.4 150v1.4M282.6 150v1.4M284.8 150v1.4M287 150v1.4M289.2 150v1.4M291.4 150v1.4M293.6 150v1.4M295.8 150v1.4M298 150v1.4M300.2 150v1.4M302.4 150v1.4M304.6 150v1.4M306.8 150v1.4M309 150v1.4M311.2 150v1.4M313.4 150v1.4M315.6 150v1.4M317.8 150v1.4M320 150v1.4M322.2 150v1.4M324.4 150v1.4M326.6 150v1.4M328.8 150v1.4M331 150v1.4M333.2 150v1.4M335.4 150v1.4M337.6 150v1.4M339.8 150v1.4M342 150v1.4M344.2 150v1.4M346.4 150v1.4M348.6 150v1.4M350.8 150v1.4M353 150v1.4M355.2 150v1.4M357.4 150v1.4M359.6 150v1.4M361.8 150v1.4M364 150v1.4M366.2 150v1.4M368.4 150v1.4M370.6 150v1.4M372.8 150v1.4M375 150v1.4M377.2 150v1.4M379.4 150v1.4M381.6 150v1.4M383.8 150v1.4M386 150v1.4M388.2 150v1.4M390.4 150v1.4M392.6 150v1.4M394.8 150v1.4M397 150v1.4M399.2 150v1.4M401.4 150v1.4M403.6 150v1.4M405.8 150v1.4M408 150v1.4M410.2 150v1.4M412.4 150v1.4M414.6 150v1.4M416.8 150v1.4" stroke="#222" stroke-width="1" fill="none"/>
<circle cx="415.2" cy="150.6" r="3.4" fill="#111"/><circle cx="415.8" cy="149.9" r="0.9" fill="#ddd"/>
<clipPath id="cp3"><rect x="266.1" y="146.5" width="158.4" height="89.6"/></clipPath><g clip-path="url(#cp3)">
<path d="M266.1 190.7 L267.29 192.49 L270.06 193.99 L275.6 194.29 L285.9 193.69 L300 193.24 L321.54 192.35 L345.3 191.9 L365.1 192.35 L384.9 193.39 L404.7 194.73 L416.58 195.6" stroke="#e01020" stroke-width="6.0" fill="none" stroke-linejoin="round" stroke-linecap="butt"/>
</g>
<circle cx="416.58" cy="195.6" r="3.2" fill="none" stroke="#e01020" stroke-width="1.3"/>
<path d="M266.7 191.9l0.8 -5 l2.5 5 z" fill="#e01020"/>
<path d="M266.1 236.1v2.4M305.7 236.1v2.4M345.3 236.1v2.4M384.9 236.1v2.4M424.5 236.1v2.4M285.9 236.1v1.3M325.5 236.1v1.3M365.1 236.1v1.3M404.7 236.1v1.3M266.1 236.1h-2.4M266.1 206.23h-2.4M266.1 176.37h-2.4M266.1 146.5h-2.4M266.1 221.17h-1.3M266.1 191.3h-1.3M266.1 161.43h-1.3M424.5 236.1h2.4M424.5 218.95h2.4M424.5 201.8h2.4M424.5 184.66h2.4M424.5 167.51h2.4M424.5 150.36h2.4M424.5 227.53h1.3M424.5 210.38h1.3M424.5 193.23h1.3M424.5 176.08h1.3M424.5 158.93h1.3" stroke="#1a1a1a" stroke-width="1.25" fill="none"/>
<rect x="266.1" y="146.5" width="158.4" height="89.6" stroke="#1a1a1a" stroke-width="1.25" fill="none"/>
<text x="266.1" y="247.5" font-size="8.7" text-anchor="middle" fill="#151515" color="#151515" >0</text>
<text x="305.7" y="247.5" font-size="8.7" text-anchor="middle" fill="#151515" color="#151515" >5000</text>
<text x="345.3" y="247.5" font-size="8.7" text-anchor="middle" fill="#151515" color="#151515" >10000</text>
<text x="384.9" y="247.5" font-size="8.7" text-anchor="middle" fill="#151515" color="#151515" >15000</text>
<text x="424.5" y="247.5" font-size="8.7" text-anchor="middle" fill="#151515" color="#151515" >20000</text>
<text x="261.8" y="239.23" font-size="8.7" text-anchor="end" fill="#151515" color="#151515" >0</text>
<text x="261.8" y="209.37" font-size="8.7" text-anchor="end" fill="#151515" color="#151515" >100</text>
<text x="261.8" y="179.5" font-size="8.7" text-anchor="end" fill="#151515" color="#151515" >200</text>
<text x="261.8" y="149.63" font-size="8.7" text-anchor="end" fill="#151515" color="#151515" >300</text>
<text x="428.8" y="239.23" font-size="8.7" text-anchor="start" fill="#151515" color="#151515" >0</text>
<text x="428.8" y="222.08" font-size="8.7" text-anchor="start" fill="#151515" color="#151515" >20</text>
<text x="428.8" y="204.94" font-size="8.7" text-anchor="start" fill="#151515" color="#151515" >40</text>
<text x="428.8" y="187.79" font-size="8.7" text-anchor="start" fill="#151515" color="#151515" >60</text>
<text x="428.8" y="170.64" font-size="8.7" text-anchor="start" fill="#151515" color="#151515" >80</text>
<text x="428.8" y="153.49" font-size="8.7" text-anchor="start" fill="#151515" color="#151515" >100</text>
<text x="341.9" y="167.6" font-size="7.5" text-anchor="middle" fill="#151515" color="#151515" >10000 cycles</text>
<text x="343.1" y="176" font-size="7.5" text-anchor="middle" fill="#151515" color="#151515" >95.0%</text>
<path d="M344.4 179.7V187" stroke="#111" stroke-width="0.75"/><path d="M344.4 190.3l-1.5 -3.8h3z" fill="#111"/>
<text x="400.7" y="168.4" font-size="7.5" text-anchor="middle" fill="#151515" color="#151515" >19000 cycles</text>
<text x="403.7" y="178.6" font-size="7.5" text-anchor="middle" fill="#151515" color="#151515" >88.3%</text>
<path d="M411 181.3L415 191.5" stroke="#111" stroke-width="0.75"/><path d="M416.5 194.8l-3.3 -2.6l2.8 -1.1z" fill="#111"/>
<text x="411.35" y="209.8" font-size="9.6" text-anchor="middle" fill="#151515" color="#151515" >10C</text>
<circle cx="278.1" cy="229.9" r="2.4" fill="#e01020"/>
<circle cx="277.5" cy="229.3" r="0.84" fill="#f7c0c0"/>
<text x="288.4" y="233.4" font-size="9.6" text-anchor="start" fill="#151515" color="#151515" >KVO</text>
<text x="346.5" y="256.3" font-size="9.0" text-anchor="middle" fill="#151515" color="#151515" >Cycle number</text>
<text transform="translate(242.7 191.4) rotate(-90)" font-size="8.96" text-anchor="middle" fill="#151515" color="#151515">Specific capacity (mAh g<tspan dy="-3.40" font-size="5.56">-1</tspan><tspan dy="3.40">)</tspan></text>
<text transform="translate(453 191.8) rotate(-90)" font-size="8.96" text-anchor="middle" fill="#151515" color="#151515">Coulombic efficiency (%)</text>
<clipPath id="cp4"><rect x="31.8" y="276.5" width="160.8" height="90.3"/></clipPath><g clip-path="url(#cp4)">
<path d="M31.8 286.2 L34 284.8 L37 283.6 L41 282.6 L46 281.9 L52 281.5 L60 281.3 L192.6 281.3" stroke="#111" stroke-width="5.0" fill="none" stroke-linejoin="round" stroke-linecap="round" />
<path d="M33 284.04v1.5M35.2 282.92v1.5M37.4 282.1v1.5M39.6 281.55v1.5M41.8 281.09v1.5M44 280.78v1.5M46.2 280.49v1.5M48.4 280.34v1.5M50.6 280.19v1.5M52.8 280.08v1.5M55 280.03v1.5M57.2 279.97v1.5M59.4 279.92v1.5M61.6 279.9v1.5M63.8 279.9v1.5M66 279.9v1.5M68.2 279.9v1.5M70.4 279.9v1.5M72.6 279.9v1.5M74.8 279.9v1.5M77 279.9v1.5M79.2 279.9v1.5M81.4 279.9v1.5M83.6 279.9v1.5M85.8 279.9v1.5M88 279.9v1.5M90.2 279.9v1.5M92.4 279.9v1.5M94.6 279.9v1.5M96.8 279.9v1.5M99 279.9v1.5M101.2 279.9v1.5M103.4 279.9v1.5M105.6 279.9v1.5M107.8 279.9v1.5M110 279.9v1.5M112.2 279.9v1.5M114.4 279.9v1.5M116.6 279.9v1.5M118.8 279.9v1.5M121 279.9v1.5M123.2 279.9v1.5M125.4 279.9v1.5M127.6 279.9v1.5M129.8 279.9v1.5M132 279.9v1.5M134.2 279.9v1.5M136.4 279.9v1.5M138.6 279.9v1.5M140.8 279.9v1.5M143 279.9v1.5M145.2 279.9v1.5M147.4 279.9v1.5M149.6 279.9v1.5M151.8 279.9v1.5M154 279.9v1.5M156.2 279.9v1.5M158.4 279.9v1.5M160.6 279.9v1.5M162.8 279.9v1.5M165 279.9v1.5M167.2 279.9v1.5M169.4 279.9v1.5M171.6 279.9v1.5M173.8 279.9v1.5M176 279.9v1.5M178.2 279.9v1.5M180.4 279.9v1.5M182.6 279.9v1.5M184.8 279.9v1.5M187 279.9v1.5M189.2 279.9v1.5M191.4 279.9v1.5" stroke="#b0b0b0" stroke-width="1" fill="none"/>
</g>
<clipPath id="cp5"><rect x="31.8" y="276.5" width="160.8" height="90.3"/></clipPath><g clip-path="url(#cp5)">
<path d="M31.8 301.06 L32.3 304.67 L33.21 306.84 L38.29 307.35 L53.71 306.01 L79.4 303.41 L105.21 301.42 L130.89 300.09 L156.6 299.11 L172.5 299.18 L192.6 299.62" stroke="#e01020" stroke-width="5.4" fill="none" stroke-linejoin="round" stroke-linecap="butt"/>
<path d="M31.8 300.16 L32.3 303.77 L33.21 305.94 L38.29 306.45 L53.71 305.11 L79.4 302.51 L105.21 300.52 L130.89 299.19 L156.6 298.21 L172.5 298.28 L192.6 298.72" stroke="#f6b0b0" stroke-width="0.9" stroke-dasharray="0.9 1.4" fill="none" opacity="0.9"/>
</g>
<path d="M174.5 283.5V287.5H186.2" stroke="#111" stroke-width="1.0" fill="none"/>
<path d="M192.6 287.5L186.2 285.5L186.2 289.5Z" fill="#111"/>
<path d="M38.8 295.5H47.5V303" stroke="#e01020" stroke-width="1.0" fill="none"/>
<path d="M32 295.5L38.8 293.5L38.8 297.5Z" fill="#e01020"/>
<path d="M31.8 366.8v2.4M72 366.8v2.4M112.2 366.8v2.4M152.4 366.8v2.4M192.6 366.8v2.4M51.9 366.8v1.3M92.1 366.8v1.3M132.3 366.8v1.3M172.5 366.8v1.3M31.8 366.8h-2.4M31.8 348.74h-2.4M31.8 330.68h-2.4M31.8 312.62h-2.4M31.8 294.56h-2.4M31.8 276.5h-2.4M31.8 357.77h-1.3M31.8 339.71h-1.3M31.8 321.65h-1.3M31.8 303.59h-1.3M31.8 285.53h-1.3M192.6 366.8h2.4M192.6 349.5h2.4M192.6 332.2h2.4M192.6 314.9h2.4M192.6 297.6h2.4M192.6 280.31h2.4M192.6 358.15h1.3M192.6 340.85h1.3M192.6 323.55h1.3M192.6 306.25h1.3M192.6 288.96h1.3" stroke="#1a1a1a" stroke-width="1.25" fill="none"/>
<rect x="31.8" y="276.5" width="160.8" height="90.3" stroke="#1a1a1a" stroke-width="1.25" fill="none"/>
<text x="31.8" y="378.2" font-size="8.7" text-anchor="middle" fill="#151515" color="#151515" >0</text>
<text x="72" y="378.2" font-size="8.7" text-anchor="middle" fill="#151515" color="#151515" >2000</text>
<text x="112.2" y="378.2" font-size="8.7" text-anchor="middle" fill="#151515" color="#151515" >4000</text>
<text x="152.4" y="378.2" font-size="8.7" text-anchor="middle" fill="#151515" color="#151515" >6000</text>
<text x="192.6" y="378.2" font-size="8.7" text-anchor="middle" fill="#151515" color="#151515" >8000</text>
<text x="27.5" y="369.93" font-size="8.7" text-anchor="end" fill="#151515" color="#151515" >0</text>
<text x="27.5" y="351.87" font-size="8.7" text-anchor="end" fill="#151515" color="#151515" >50</text>
<text x="27.5" y="333.81" font-size="8.7" text-anchor="end" fill="#151515" color="#151515" >100</text>
<text x="27.5" y="315.75" font-size="8.7" text-anchor="end" fill="#151515" color="#151515" >150</text>
<text x="27.5" y="297.69" font-size="8.7" text-anchor="end" fill="#151515" color="#151515" >200</text>
<text x="27.5" y="279.63" font-size="8.7" text-anchor="end" fill="#151515" color="#151515" >250</text>
<text x="196.9" y="369.93" font-size="8.7" text-anchor="start" fill="#151515" color="#151515" >0</text>
<text x="196.9" y="352.63" font-size="8.7" text-anchor="start" fill="#151515" color="#151515" >20</text>
<text x="196.9" y="335.33" font-size="8.7" text-anchor="start" fill="#151515" color="#151515" >40</text>
<text x="196.9" y="318.04" font-size="8.7" text-anchor="start" fill="#151515" color="#151515" >60</text>
<text x="196.9" y="300.74" font-size="8.7" text-anchor="start" fill="#151515" color="#151515" >80</text>
<text x="196.9" y="283.44" font-size="8.7" text-anchor="start" fill="#151515" color="#151515" >100</text>
<text x="173.2" y="297.8" font-size="10.3" text-anchor="middle" fill="#151515" color="#151515" >100.2%</text>
<text x="180.4" y="313.2" font-size="10.5" text-anchor="middle" fill="#151515" color="#151515" >10C</text>
<circle cx="161.2" cy="349.7" r="2.4" fill="#e01020"/>
<circle cx="160.6" cy="349.1" r="0.84" fill="#f7c0c0"/>
<text x="171.2" y="352.8" font-size="10.0" text-anchor="start" fill="#151515" color="#151515" >KVO</text>
<text x="176" y="365.2" font-size="11" text-anchor="middle" fill="#ee1111" color="#ee1111" >60°C</text>
<rect x="75" y="309.7" width="77.8" height="43" fill="#fff"/>
<path d="M75 349.53 C75.39 349.01 76.48 347.65 77.33 346.37 C78.19 345.08 79.23 343.39 80.13 341.81 C81.04 340.22 81.95 338.47 82.78 336.87 C83.61 335.26 84.21 333.76 85.11 332.18 C86.02 330.6 87.21 328.78 88.23 327.37 C89.24 325.95 90.15 324.88 91.18 323.7 C92.22 322.51 93.44 321.27 94.45 320.28 C95.46 319.28 96.34 318.52 97.25 317.74 C98.16 316.96 99.09 316.2 99.9 315.59 C100.7 314.98 101.71 314.32 102.07 314.07" stroke="#f7941d" stroke-width="0.9" fill="none" stroke-linejoin="round" stroke-dasharray="0.1 1.6" stroke-linecap="round"/>
<path d="M75 321.04 C75.13 321.67 75.52 323.67 75.78 324.84 C76.04 326 76.22 326.78 76.56 328 C76.89 329.23 77.28 330.81 77.8 332.18 C78.32 333.55 79.05 335.03 79.67 336.23 C80.29 337.44 80.76 338.43 81.54 339.4 C82.31 340.37 83.35 341.26 84.34 342.06 C85.32 342.86 86.41 343.6 87.45 344.21 C88.49 344.83 89.34 345.23 90.56 345.73 C91.78 346.24 93.46 346.79 94.76 347.25 C96.06 347.72 97.04 348.12 98.34 348.52 C99.64 348.92 101.84 349.47 102.54 349.66" stroke="#f7941d" stroke-width="0.9" fill="none" stroke-linejoin="round" stroke-dasharray="0.1 1.6" stroke-linecap="round"/>
<path d="M75 348.9 C75.78 348.06 77.98 345.82 79.67 343.83 C81.35 341.85 83.69 338.89 85.11 336.99 C86.54 335.09 87.21 333.85 88.23 332.43 C89.24 331.02 90.15 329.71 91.18 328.51 C92.22 327.31 93.44 326.21 94.45 325.22 C95.46 324.22 96.34 323.36 97.25 322.56 C98.16 321.75 98.91 321.1 99.9 320.4 C100.88 319.71 102 319.11 103.16 318.38 C104.33 317.64 105.71 316.75 106.9 315.97 C108.09 315.19 109.75 314.07 110.32 313.69" stroke="#6cbd45" stroke-width="0.9" fill="none" stroke-linejoin="round" stroke-dasharray="2 0.8 0.5 0.8 0.5 0.8" />
<path d="M75 320.4 C75.21 321.14 75.73 323.36 76.24 324.84 C76.76 326.31 77.28 327.79 78.11 329.27 C78.94 330.75 80.06 332.33 81.22 333.7 C82.39 335.07 83.82 336.34 85.11 337.5 C86.41 338.66 87.58 339.65 89 340.67 C90.43 341.68 92.12 342.74 93.67 343.58 C95.23 344.43 96.78 345.1 98.34 345.73 C99.9 346.37 101.58 346.89 103.01 347.38 C104.43 347.87 105.68 348.27 106.9 348.65 C108.12 349.03 109.75 349.49 110.32 349.66" stroke="#6cbd45" stroke-width="0.9" fill="none" stroke-linejoin="round" stroke-dasharray="2 0.8 0.5 0.8 0.5 0.8" />
<path d="M75 349.15 C76.04 348.16 79.28 344.93 81.22 343.2 C83.17 341.47 85.01 340.14 86.67 338.77 C88.33 337.4 89.89 336.23 91.18 334.97 C92.48 333.7 93.44 332.41 94.45 331.17 C95.46 329.92 96.34 328.55 97.25 327.5 C98.16 326.44 98.91 325.66 99.9 324.84 C100.88 324.01 102.13 323.23 103.16 322.56 C104.2 321.88 105.11 321.29 106.12 320.78 C107.13 320.28 108.06 320.15 109.23 319.52 C110.4 318.88 111.72 317.78 113.12 316.98 C114.52 316.18 116.88 315.08 117.63 314.7" stroke="#27a9e1" stroke-width="0.9" fill="none" stroke-linejoin="round" stroke-dasharray="2 0.8 0.5 0.8" />
<path d="M75 319.77 C75.26 320.61 75.91 323.25 76.56 324.84 C77.2 326.42 77.85 327.79 78.89 329.27 C79.93 330.75 81.35 332.33 82.78 333.7 C84.21 335.07 85.89 336.34 87.45 337.5 C89 338.66 90.3 339.65 92.12 340.67 C93.93 341.68 96.27 342.74 98.34 343.58 C100.41 344.43 102.49 345.1 104.56 345.73 C106.64 346.37 108.84 346.85 110.79 347.38 C112.73 347.91 114.47 348.41 116.23 348.9 C118 349.39 120.51 350.06 121.37 350.29" stroke="#27a9e1" stroke-width="0.9" fill="none" stroke-linejoin="round" stroke-dasharray="2 0.8 0.5 0.8" />
<path d="M75 349.41 C76.3 348.44 80.19 345.35 82.78 343.58 C85.37 341.81 88.49 340.2 90.56 338.77 C92.63 337.33 93.67 336.45 95.23 334.97 C96.78 333.49 98.34 331.48 99.9 329.9 C101.45 328.32 103.01 326.74 104.56 325.47 C106.12 324.2 107.42 323.46 109.23 322.3 C111.05 321.14 113.64 319.52 115.46 318.5 C117.27 317.49 118.75 316.86 120.12 316.22 C121.5 315.59 123.11 314.96 123.7 314.7" stroke="#f6b4d0" stroke-width="0.9" fill="none" stroke-linejoin="round" stroke-dasharray="0.1 1.4" stroke-linecap="round"/>
<path d="M75 319.77 C75.31 320.61 76.09 323.25 76.87 324.84 C77.65 326.42 78.42 327.79 79.67 329.27 C80.91 330.75 82.65 332.33 84.34 333.7 C86.02 335.07 87.97 336.34 89.78 337.5 C91.6 338.66 93.28 339.72 95.23 340.67 C97.17 341.62 99.38 342.42 101.45 343.2 C103.53 343.98 105.6 344.72 107.68 345.35 C109.75 345.99 111.83 346.45 113.9 347 C115.97 347.55 118.31 348.12 120.12 348.65 C121.94 349.17 124.01 349.91 124.79 350.17" stroke="#f6b4d0" stroke-width="0.9" fill="none" stroke-linejoin="round" stroke-dasharray="0.1 1.4" stroke-linecap="round"/>
<path d="M75 349.53 C76.3 348.79 80.19 346.58 82.78 345.1 C85.37 343.62 88.15 342.21 90.56 340.67 C92.97 339.13 95.57 337.23 97.25 335.85 C98.94 334.48 99.69 333.45 100.67 332.43 C101.66 331.42 102.26 330.58 103.16 329.78 C104.07 328.97 105.11 328.32 106.12 327.62 C107.13 326.93 107.68 326.52 109.23 325.6 C110.79 324.67 113.43 323.17 115.46 322.05 C117.48 320.93 119.81 319.73 121.37 318.88 C122.92 318.04 123.6 317.59 124.79 316.98 C125.98 316.37 127.9 315.51 128.53 315.21" stroke="#e5404f" stroke-width="0.9" fill="none" stroke-linejoin="round" stroke-dasharray="2 1.2" />
<path d="M75 319.77 C75.39 320.61 76.43 323.25 77.33 324.84 C78.24 326.42 79.15 327.83 80.45 329.27 C81.74 330.7 83.43 332.12 85.11 333.45 C86.8 334.78 88.62 336.09 90.56 337.25 C92.5 338.41 94.71 339.49 96.78 340.41 C98.86 341.34 100.93 342.08 103.01 342.82 C105.08 343.56 107.16 344.21 109.23 344.85 C111.31 345.48 113.38 346.07 115.46 346.62 C117.53 347.17 119.86 347.7 121.68 348.14 C123.5 348.58 125 348.92 126.35 349.28 C127.7 349.64 129.2 350.12 129.77 350.29" stroke="#e5404f" stroke-width="0.9" fill="none" stroke-linejoin="round" stroke-dasharray="2 1.2" />
<path d="M75 349.91 C75.78 349.64 77.98 348.82 79.67 348.27 C81.35 347.72 83.3 347.32 85.11 346.62 C86.93 345.92 88.54 345.08 90.56 344.09 C92.58 343.1 95.57 341.6 97.25 340.67 C98.94 339.74 99.48 339.32 100.67 338.51 C101.87 337.71 103.11 336.91 104.41 335.85 C105.71 334.8 107.05 333.41 108.45 332.18 C109.85 330.96 111.25 329.63 112.81 328.51 C114.37 327.39 115.97 326.46 117.79 325.47 C119.61 324.48 121.76 323.61 123.7 322.56 C125.65 321.5 127.33 320.44 129.46 319.14 C131.59 317.83 135.3 315.44 136.46 314.7" stroke="#1a1a1a" stroke-width="0.9" fill="none" stroke-linejoin="round" />
<path d="M75 319.77 C75.16 319.96 75.26 319.85 75.93 320.91 C76.61 321.96 77.52 324.41 79.05 326.1 C80.58 327.79 83.09 329.42 85.11 331.04 C87.14 332.67 89.16 334.25 91.18 335.85 C93.21 337.46 95.28 339.59 97.25 340.67 C99.22 341.74 101.01 341.83 103.01 342.31 C105 342.8 107.16 343.16 109.23 343.58 C111.31 344 113.43 344.45 115.46 344.85 C117.48 345.25 119.03 345.46 121.37 345.99 C123.7 346.51 126.66 347.3 129.46 348.01 C132.26 348.73 136.72 349.91 138.17 350.29" stroke="#1a1a1a" stroke-width="0.9" fill="none" stroke-linejoin="round" />
<path d="M75 352.7v1.5M90.56 352.7v1.5M106.12 352.7v1.5M121.68 352.7v1.5M137.24 352.7v1.5M152.8 352.7v1.5M82.78 352.7v0.9M98.34 352.7v0.9M113.9 352.7v0.9M129.46 352.7v0.9M145.02 352.7v0.9M75 352.7h-1.5M75 340.03h-1.5M75 327.37h-1.5M75 314.7h-1.5M75 346.37h-0.9M75 333.7h-0.9M75 321.04h-0.9" stroke="#1a1a1a" stroke-width="0.8" fill="none"/>
<rect x="75" y="309.7" width="77.8" height="43" stroke="#1a1a1a" stroke-width="0.8" fill="none"/>
<text x="75" y="358.3" font-size="5.1" text-anchor="middle" fill="#151515" color="#151515" >0</text>
<text x="90.56" y="358.3" font-size="5.1" text-anchor="middle" fill="#151515" color="#151515" >100</text>
<text x="106.12" y="358.3" font-size="5.1" text-anchor="middle" fill="#151515" color="#151515" >200</text>
<text x="121.68" y="358.3" font-size="5.1" text-anchor="middle" fill="#151515" color="#151515" >300</text>
<text x="137.24" y="358.3" font-size="5.1" text-anchor="middle" fill="#151515" color="#151515" >400</text>
<text x="152.8" y="358.3" font-size="5.1" text-anchor="middle" fill="#151515" color="#151515" >500</text>
<text x="72.6" y="354.54" font-size="5.1" text-anchor="end" fill="#151515" color="#151515" >0</text>
<text x="72.6" y="341.87" font-size="5.1" text-anchor="end" fill="#151515" color="#151515" >1</text>
<text x="72.6" y="329.2" font-size="5.1" text-anchor="end" fill="#151515" color="#151515" >2</text>
<text x="72.6" y="316.54" font-size="5.1" text-anchor="end" fill="#151515" color="#151515" >3</text>
<text x="95.1" y="314.6" font-size="5.9" text-anchor="start" fill="#f7941d" color="#f7941d" >10C</text>
<text x="104.8" y="314.6" font-size="5.9" text-anchor="start" fill="#6cbd45" color="#6cbd45" >5C</text>
<text x="114.3" y="314.6" font-size="5.9" text-anchor="start" fill="#27a9e1" color="#27a9e1" >2C</text>
<text x="121.9" y="314.6" font-size="5.9" text-anchor="start" fill="#f6b4d0" color="#f6b4d0" >1C</text>
<text x="127.7" y="314.6" font-size="5.9" text-anchor="start" fill="#e5404f" color="#e5404f" >0.5C</text>
<text x="139.9" y="314.6" font-size="5.9" text-anchor="start" fill="#1a1a1a" color="#1a1a1a" >0.1C</text>
<text x="146" y="350.6" font-size="5.6" text-anchor="middle" fill="#ee1111" color="#ee1111" >60°C</text>
<text x="117.7" y="366" font-size="5.9" text-anchor="middle" fill="#151515" color="#151515" >Specific capacity (mAh g<tspan dy="-2.24" font-size="3.66">-1</tspan><tspan dy="2.24">)</tspan></text>
<text transform="translate(68.2 333.5) rotate(-90)" font-size="5.2" text-anchor="middle" fill="#151515" color="#151515">Voltage (V)</text>
<text x="111.9" y="385.3" font-size="9.0" text-anchor="middle" fill="#151515" color="#151515" >Cycle number</text>
<text transform="translate(9.3 320.85) rotate(-90)" font-size="9.23" text-anchor="middle" fill="#151515" color="#151515">Specific capacity (mAh g<tspan dy="-3.51" font-size="5.72">-1</tspan><tspan dy="3.51">)</tspan></text>
<text transform="translate(221.5 321.7) rotate(-90)" font-size="9.04" text-anchor="middle" fill="#151515" color="#151515">Coulombic efficiency (%)</text>
<rect x="266.2" y="279.9" width="158.8" height="4.9" fill="#111"/>
<path d="M267.3 281.2v1.4M269.5 281.2v1.4M271.7 281.2v1.4M273.9 281.2v1.4M276.1 281.2v1.4M278.3 281.2v1.4M280.5 281.2v1.4M282.7 281.2v1.4M284.9 281.2v1.4M287.1 281.2v1.4M289.3 281.2v1.4M291.5 281.2v1.4M293.7 281.2v1.4M295.9 281.2v1.4M298.1 281.2v1.4M300.3 281.2v1.4M302.5 281.2v1.4M304.7 281.2v1.4M306.9 281.2v1.4M309.1 281.2v1.4M311.3 281.2v1.4M313.5 281.2v1.4M315.7 281.2v1.4M317.9 281.2v1.4M320.1 281.2v1.4M322.3 281.2v1.4M324.5 281.2v1.4M326.7 281.2v1.4M328.9 281.2v1.4M331.1 281.2v1.4M333.3 281.2v1.4M335.5 281.2v1.4M337.7 281.2v1.4M339.9 281.2v1.4M342.1 281.2v1.4M344.3 281.2v1.4M346.5 281.2v1.4M348.7 281.2v1.4M350.9 281.2v1.4M353.1 281.2v1.4M355.3 281.2v1.4M357.5 281.2v1.4M359.7 281.2v1.4M361.9 281.2v1.4M364.1 281.2v1.4M366.3 281.2v1.4M368.5 281.2v1.4M370.7 281.2v1.4M372.9 281.2v1.4M375.1 281.2v1.4M377.3 281.2v1.4M379.5 281.2v1.4M381.7 281.2v1.4M383.9 281.2v1.4M386.1 281.2v1.4M388.3 281.2v1.4M390.5 281.2v1.4M392.7 281.2v1.4M394.9 281.2v1.4M397.1 281.2v1.4M399.3 281.2v1.4M401.5 281.2v1.4M403.7 281.2v1.4M405.9 281.2v1.4M408.1 281.2v1.4M410.3 281.2v1.4M412.5 281.2v1.4M414.7 281.2v1.4M416.9 281.2v1.4M419.1 281.2v1.4M421.3 281.2v1.4M423.5 281.2v1.4" stroke="#b0b0b0" stroke-width="1" fill="none"/>
<circle cx="367.4" cy="285.2" r="2.0" fill="#111"/>
<clipPath id="cp6"><rect x="266.2" y="278.3" width="158.8" height="88.8"/></clipPath><g clip-path="url(#cp6)">
<path d="M266.2 300.8 L267.79 302.57 L270.01 304.53 L273.03 306.48 L275.01 308.02 L282.08 308.31 L297.96 307.9 L322.02 307.19 L345.6 306.54 L364.97 306.01 L393.24 304.35 L425 302.57" stroke="#e01020" stroke-width="4.6" fill="none" stroke-linejoin="round" stroke-linecap="butt"/>
<path d="M266.2 299.9 L267.79 301.67 L270.01 303.63 L273.03 305.58 L275.01 307.12 L282.08 307.41 L297.96 307 L322.02 306.29 L345.6 305.64 L364.97 305.11 L393.24 303.45 L425 301.67" stroke="#f6b0b0" stroke-width="0.9" stroke-dasharray="0.9 1.4" fill="none" opacity="0.9"/>
</g>
<path d="M409.5 283.4V290.5H418.6" stroke="#111" stroke-width="1.0" fill="none"/>
<path d="M425 290.5L418.6 288.5L418.6 292.5Z" fill="#111"/>
<path d="M273.1 296.5H288.5V305.5" stroke="#e01020" stroke-width="1.0" fill="none"/>
<path d="M266.3 296.5L273.1 294.4L273.1 298.6Z" fill="#e01020"/>
<path d="M266.2 367.1v2.4M305.9 367.1v2.4M345.6 367.1v2.4M385.3 367.1v2.4M425 367.1v2.4M286.05 367.1v1.3M325.75 367.1v1.3M365.45 367.1v1.3M405.15 367.1v1.3M266.2 367.1h-2.4M266.2 337.5h-2.4M266.2 307.9h-2.4M266.2 278.3h-2.4M266.2 352.3h-1.3M266.2 322.7h-1.3M266.2 293.1h-1.3M425 367.1h2.4M425 350.07h2.4M425 333.04h2.4M425 316.02h2.4M425 298.99h2.4M425 281.96h2.4M425 358.59h1.3M425 341.56h1.3M425 324.53h1.3M425 307.5h1.3M425 290.47h1.3" stroke="#1a1a1a" stroke-width="1.25" fill="none"/>
<rect x="266.2" y="278.3" width="158.8" height="88.8" stroke="#1a1a1a" stroke-width="1.25" fill="none"/>
<text x="266.2" y="378.5" font-size="8.7" text-anchor="middle" fill="#151515" color="#151515" >0</text>
<text x="305.9" y="378.5" font-size="8.7" text-anchor="middle" fill="#151515" color="#151515" >500</text>
<text x="345.6" y="378.5" font-size="8.7" text-anchor="middle" fill="#151515" color="#151515" >1000</text>
<text x="385.3" y="378.5" font-size="8.7" text-anchor="middle" fill="#151515" color="#151515" >1500</text>
<text x="425" y="378.5" font-size="8.7" text-anchor="middle" fill="#151515" color="#151515" >2000</text>
<text x="261.9" y="370.23" font-size="8.7" text-anchor="end" fill="#151515" color="#151515" >0</text>
<text x="261.9" y="340.63" font-size="8.7" text-anchor="end" fill="#151515" color="#151515" >50</text>
<text x="261.9" y="311.03" font-size="8.7" text-anchor="end" fill="#151515" color="#151515" >100</text>
<text x="261.9" y="281.43" font-size="8.7" text-anchor="end" fill="#151515" color="#151515" >150</text>
<text x="429.3" y="370.23" font-size="8.7" text-anchor="start" fill="#151515" color="#151515" >0</text>
<text x="429.3" y="353.2" font-size="8.7" text-anchor="start" fill="#151515" color="#151515" >20</text>
<text x="429.3" y="336.18" font-size="8.7" text-anchor="start" fill="#151515" color="#151515" >40</text>
<text x="429.3" y="319.15" font-size="8.7" text-anchor="start" fill="#151515" color="#151515" >60</text>
<text x="429.3" y="302.12" font-size="8.7" text-anchor="start" fill="#151515" color="#151515" >80</text>
<text x="429.3" y="285.09" font-size="8.7" text-anchor="start" fill="#151515" color="#151515" >100</text>
<text x="404.8" y="299.6" font-size="10.3" text-anchor="middle" fill="#151515" color="#151515" >97.9%</text>
<text x="411.8" y="317.6" font-size="10.5" text-anchor="middle" fill="#151515" color="#151515" >1C</text>
<circle cx="394.5" cy="350.2" r="2.4" fill="#e01020"/>
<circle cx="393.9" cy="349.6" r="0.84" fill="#f7c0c0"/>
<text x="404.6" y="353.6" font-size="10.0" text-anchor="start" fill="#151515" color="#151515" >KVO</text>
<text x="409.2" y="365.2" font-size="11" text-anchor="middle" fill="#3a3af0" color="#3a3af0" >-10°C</text>
<rect x="312.4" y="313.6" width="71.7" height="40.4" fill="#fff"/>
<path d="M312.4 348.46 C312.88 347.94 314.17 346.4 315.27 345.38 C316.37 344.35 317.9 343.22 319 342.3 C320.1 341.38 321.05 340.88 321.86 339.84 C322.68 338.79 323.25 337.66 323.87 336.02 C324.49 334.37 325.07 331.99 325.59 329.98 C326.12 327.97 326.36 325.38 327.03 323.95 C327.7 322.51 328.8 322.14 329.61 321.36 C330.42 320.58 331.14 319.94 331.9 319.27 C332.67 318.59 333.43 317.97 334.2 317.3 C334.96 316.62 336.11 315.55 336.49 315.2" stroke="#27a9e1" stroke-width="0.9" fill="none" stroke-linejoin="round" stroke-dasharray="2 0.8 0.5 0.8" />
<path d="M312.4 322.59 C312.54 323.93 312.94 328.24 313.26 330.6 C313.58 332.96 313.77 335.11 314.29 336.76 C314.82 338.4 315.63 339.38 316.42 340.45 C317.2 341.52 317.75 342.13 319 343.16 C320.24 344.19 322.25 345.69 323.87 346.61 C325.5 347.53 327.31 348.13 328.75 348.7 C330.18 349.28 331.19 349.67 332.48 350.06 C333.77 350.45 335.82 350.88 336.49 351.04" stroke="#27a9e1" stroke-width="0.9" fill="none" stroke-linejoin="round" stroke-dasharray="2 0.8 0.5 0.8" />
<path d="M312.4 349.69 C313.83 348.87 318.14 346.51 321 344.76 C323.87 343.02 327.7 340.76 329.61 339.22 C331.52 337.68 331.52 336.76 332.48 335.52 C333.43 334.29 333.91 333.68 335.34 331.83 C336.78 329.98 339.65 326.39 341.08 324.44 C342.51 322.49 343.09 321.57 343.95 320.13 C344.81 318.69 345.86 316.54 346.24 315.82" stroke="#f6b4d0" stroke-width="0.9" fill="none" stroke-linejoin="round" stroke-dasharray="0.1 1.4" stroke-linecap="round"/>
<path d="M312.4 320.74 C312.5 321.77 312.73 324.85 312.97 326.9 C313.21 328.96 313.21 331.11 313.83 333.06 C314.46 335.01 315.51 337.06 316.7 338.6 C317.9 340.14 318.85 341.07 321 342.3 C323.15 343.53 326.26 344.86 329.61 345.99 C332.95 347.12 338.21 348.35 341.08 349.07 C343.95 349.79 345.86 350.1 346.82 350.3" stroke="#f6b4d0" stroke-width="0.9" fill="none" stroke-linejoin="round" stroke-dasharray="0.1 1.4" stroke-linecap="round"/>
<path d="M312.4 350.3 C313.36 349.79 316.22 348.29 318.14 347.23 C320.05 346.16 321.96 345.03 323.87 343.9 C325.78 342.77 328.27 341.35 329.61 340.45 C330.95 339.55 330.95 339.71 331.9 338.48 C332.86 337.25 334.03 334.79 335.34 333.06 C336.66 331.34 338.36 329.41 339.79 328.13 C341.22 326.86 342.63 326.25 343.95 325.42 C345.26 324.6 346.39 324.03 347.68 323.21 C348.97 322.39 350.35 321.32 351.69 320.5 C353.03 319.68 355.04 318.65 355.71 318.28" stroke="#e5404f" stroke-width="0.9" fill="none" stroke-linejoin="round" stroke-dasharray="2 1.2" />
<path d="M312.4 320.74 C312.5 321.77 312.73 325.05 312.97 326.9 C313.21 328.75 313.21 329.98 313.83 331.83 C314.46 333.68 315.51 336.35 316.7 337.99 C317.9 339.63 318.85 340.55 321 341.68 C323.15 342.81 326.48 343.86 329.61 344.76 C332.74 345.67 336.68 346.34 339.79 347.1 C342.9 347.86 345.6 348.66 348.25 349.32 C350.9 349.98 354.46 350.76 355.71 351.04" stroke="#e5404f" stroke-width="0.9" fill="none" stroke-linejoin="round" stroke-dasharray="2 1.2" />
<path d="M312.4 350.3 C313.36 349.65 316.22 347.7 318.14 346.36 C320.05 345.03 321.48 343.69 323.87 342.3 C326.26 340.9 329.82 339.32 332.48 337.99 C335.13 336.65 337.16 335.63 339.79 334.29 C342.42 332.96 345.6 331.44 348.25 329.98 C350.9 328.52 353.56 326.98 355.71 325.55 C357.86 324.11 359.58 322.78 361.16 321.36 C362.73 319.94 364.5 317.77 365.17 317.05" stroke="#1a1a1a" stroke-width="0.9" fill="none" stroke-linejoin="round" />
<path d="M312.4 319.51 C312.5 320.54 312.66 323.6 312.97 325.67 C313.29 327.74 313.67 330.21 314.29 331.95 C314.91 333.7 315.63 334.93 316.7 336.14 C317.77 337.35 319.28 338.36 320.72 339.22 C322.15 340.08 323.44 340.66 325.31 341.31 C327.17 341.97 329.51 342.57 331.9 343.16 C334.29 343.76 337.02 344.35 339.65 344.89 C342.28 345.42 344.57 345.77 347.68 346.36 C350.78 346.96 354.56 347.8 358.29 348.46 C362.02 349.11 368.09 350 370.05 350.3" stroke="#1a1a1a" stroke-width="0.9" fill="none" stroke-linejoin="round" />
<path d="M312.4 354v1.5M326.74 354v1.5M341.08 354v1.5M355.42 354v1.5M369.76 354v1.5M384.1 354v1.5M319.57 354v0.9M333.91 354v0.9M348.25 354v0.9M362.59 354v0.9M376.93 354v0.9M312.4 354h-1.5M312.4 341.68h-1.5M312.4 329.37h-1.5M312.4 317.05h-1.5M312.4 347.84h-0.9M312.4 335.52h-0.9M312.4 323.21h-0.9" stroke="#1a1a1a" stroke-width="0.8" fill="none"/>
<rect x="312.4" y="313.6" width="71.7" height="40.4" stroke="#1a1a1a" stroke-width="0.8" fill="none"/>
<text x="312.4" y="359.2" font-size="5.1" text-anchor="middle" fill="#151515" color="#151515" >0</text>
<text x="326.74" y="359.2" font-size="5.1" text-anchor="middle" fill="#151515" color="#151515" >50</text>
<text x="341.08" y="359.2" font-size="5.1" text-anchor="middle" fill="#151515" color="#151515" >100</text>
<text x="355.42" y="359.2" font-size="5.1" text-anchor="middle" fill="#151515" color="#151515" >150</text>
<text x="369.76" y="359.2" font-size="5.1" text-anchor="middle" fill="#151515" color="#151515" >200</text>
<text x="384.1" y="359.2" font-size="5.1" text-anchor="middle" fill="#151515" color="#151515" >250</text>
<text x="310" y="355.84" font-size="5.1" text-anchor="end" fill="#151515" color="#151515" >0</text>
<text x="310" y="343.52" font-size="5.1" text-anchor="end" fill="#151515" color="#151515" >1</text>
<text x="310" y="331.2" font-size="5.1" text-anchor="end" fill="#151515" color="#151515" >2</text>
<text x="310" y="318.88" font-size="5.1" text-anchor="end" fill="#151515" color="#151515" >3</text>
<text x="335.4" y="318" font-size="5.9" text-anchor="start" fill="#27a9e1" color="#27a9e1" >2C</text>
<text x="345.4" y="318" font-size="5.9" text-anchor="start" fill="#f6b4d0" color="#f6b4d0" >1C</text>
<text x="351" y="318" font-size="5.9" text-anchor="start" fill="#e5404f" color="#e5404f" >0.5C</text>
<text x="366.1" y="318" font-size="5.9" text-anchor="start" fill="#1a1a1a" color="#1a1a1a" >0.1C</text>
<text x="377.5" y="351.2" font-size="5.6" text-anchor="middle" fill="#3a3af0" color="#3a3af0" >-10°C</text>
<text x="353.6" y="365.3" font-size="5.9" text-anchor="middle" fill="#151515" color="#151515" >Specific capacity (mAh g<tspan dy="-2.24" font-size="3.66">-1</tspan><tspan dy="2.24">)</tspan></text>
<text transform="translate(306.2 336.6) rotate(-90)" font-size="5.8" text-anchor="middle" fill="#151515" color="#151515">Voltage (V)</text>
<text x="345.9" y="386.6" font-size="9.0" text-anchor="middle" fill="#151515" color="#151515" >Cycle number</text>
<text transform="translate(244 322.45) rotate(-90)" font-size="9.14" text-anchor="middle" fill="#151515" color="#151515">Specific capacity (mAh g<tspan dy="-3.47" font-size="5.67">-1</tspan><tspan dy="3.47">)</tspan></text>
<text transform="translate(453 323.3) rotate(-90)" font-size="9.05" text-anchor="middle" fill="#151515" color="#151515">Coulombic efficiency (%)</text>
<path d="M491.5 288.84a2.1 2.1 0 1 0 4.2 0a2.1 2.1 0 1 0 -4.2 0M493.9 285.01a2.1 2.1 0 1 0 4.2 0a2.1 2.1 0 1 0 -4.2 0M496.3 283.67a2.1 2.1 0 1 0 4.2 0a2.1 2.1 0 1 0 -4.2 0M498.7 282.93a2.1 2.1 0 1 0 4.2 0a2.1 2.1 0 1 0 -4.2 0M501.1 282.46a2.1 2.1 0 1 0 4.2 0a2.1 2.1 0 1 0 -4.2 0M503.5 282.73a2.1 2.1 0 1 0 4.2 0a2.1 2.1 0 1 0 -4.2 0M505.9 282.36a2.1 2.1 0 1 0 4.2 0a2.1 2.1 0 1 0 -4.2 0M508.3 282.33a2.1 2.1 0 1 0 4.2 0a2.1 2.1 0 1 0 -4.2 0M510.7 283.2a2.1 2.1 0 1 0 4.2 0a2.1 2.1 0 1 0 -4.2 0M513.1 283.28a2.1 2.1 0 1 0 4.2 0a2.1 2.1 0 1 0 -4.2 0M515.5 282a2.1 2.1 0 1 0 4.2 0a2.1 2.1 0 1 0 -4.2 0M517.9 282.9a2.1 2.1 0 1 0 4.2 0a2.1 2.1 0 1 0 -4.2 0M520.3 282.94a2.1 2.1 0 1 0 4.2 0a2.1 2.1 0 1 0 -4.2 0M522.7 281.75a2.1 2.1 0 1 0 4.2 0a2.1 2.1 0 1 0 -4.2 0M525.1 282.57a2.1 2.1 0 1 0 4.2 0a2.1 2.1 0 1 0 -4.2 0M527.5 282a2.1 2.1 0 1 0 4.2 0a2.1 2.1 0 1 0 -4.2 0M529.9 282.56a2.1 2.1 0 1 0 4.2 0a2.1 2.1 0 1 0 -4.2 0M532.3 282.31a2.1 2.1 0 1 0 4.2 0a2.1 2.1 0 1 0 -4.2 0M534.7 283.07a2.1 2.1 0 1 0 4.2 0a2.1 2.1 0 1 0 -4.2 0M537.1 282.31a2.1 2.1 0 1 0 4.2 0a2.1 2.1 0 1 0 -4.2 0M539.5 281.95a2.1 2.1 0 1 0 4.2 0a2.1 2.1 0 1 0 -4.2 0M541.9 282.49a2.1 2.1 0 1 0 4.2 0a2.1 2.1 0 1 0 -4.2 0M544.3 282.15a2.1 2.1 0 1 0 4.2 0a2.1 2.1 0 1 0 -4.2 0M546.7 282.26a2.1 2.1 0 1 0 4.2 0a2.1 2.1 0 1 0 -4.2 0M549.1 283.2a2.1 2.1 0 1 0 4.2 0a2.1 2.1 0 1 0 -4.2 0M551.5 282.12a2.1 2.1 0 1 0 4.2 0a2.1 2.1 0 1 0 -4.2 0M553.9 282.38a2.1 2.1 0 1 0 4.2 0a2.1 2.1 0 1 0 -4.2 0M556.3 282.83a2.1 2.1 0 1 0 4.2 0a2.1 2.1 0 1 0 -4.2 0M558.7 283.25a2.1 2.1 0 1 0 4.2 0a2.1 2.1 0 1 0 -4.2 0M561.1 281.96a2.1 2.1 0 1 0 4.2 0a2.1 2.1 0 1 0 -4.2 0M563.5 282.57a2.1 2.1 0 1 0 4.2 0a2.1 2.1 0 1 0 -4.2 0M565.9 282.18a2.1 2.1 0 1 0 4.2 0a2.1 2.1 0 1 0 -4.2 0M568.3 281.93a2.1 2.1 0 1 0 4.2 0a2.1 2.1 0 1 0 -4.2 0M570.7 282.19a2.1 2.1 0 1 0 4.2 0a2.1 2.1 0 1 0 -4.2 0M573.1 281.87a2.1 2.1 0 1 0 4.2 0a2.1 2.1 0 1 0 -4.2 0M575.5 282.69a2.1 2.1 0 1 0 4.2 0a2.1 2.1 0 1 0 -4.2 0M577.9 282.06a2.1 2.1 0 1 0 4.2 0a2.1 2.1 0 1 0 -4.2 0M580.3 282.61a2.1 2.1 0 1 0 4.2 0a2.1 2.1 0 1 0 -4.2 0M582.7 281.85a2.1 2.1 0 1 0 4.2 0a2.1 2.1 0 1 0 -4.2 0M585.1 281.93a2.1 2.1 0 1 0 4.2 0a2.1 2.1 0 1 0 -4.2 0M587.5 283.15a2.1 2.1 0 1 0 4.2 0a2.1 2.1 0 1 0 -4.2 0M589.9 283.09a2.1 2.1 0 1 0 4.2 0a2.1 2.1 0 1 0 -4.2 0M592.3 282.96a2.1 2.1 0 1 0 4.2 0a2.1 2.1 0 1 0 -4.2 0M594.7 281.8a2.1 2.1 0 1 0 4.2 0a2.1 2.1 0 1 0 -4.2 0M597.1 282.62a2.1 2.1 0 1 0 4.2 0a2.1 2.1 0 1 0 -4.2 0M599.5 282.33a2.1 2.1 0 1 0 4.2 0a2.1 2.1 0 1 0 -4.2 0M601.9 282.83a2.1 2.1 0 1 0 4.2 0a2.1 2.1 0 1 0 -4.2 0M604.3 282.51a2.1 2.1 0 1 0 4.2 0a2.1 2.1 0 1 0 -4.2 0M606.7 282.7a2.1 2.1 0 1 0 4.2 0a2.1 2.1 0 1 0 -4.2 0M609.1 282.76a2.1 2.1 0 1 0 4.2 0a2.1 2.1 0 1 0 -4.2 0M611.5 282.39a2.1 2.1 0 1 0 4.2 0a2.1 2.1 0 1 0 -4.2 0M613.9 282.39a2.1 2.1 0 1 0 4.2 0a2.1 2.1 0 1 0 -4.2 0M616.3 281.89a2.1 2.1 0 1 0 4.2 0a2.1 2.1 0 1 0 -4.2 0M618.7 282.24a2.1 2.1 0 1 0 4.2 0a2.1 2.1 0 1 0 -4.2 0M621.1 281.86a2.1 2.1 0 1 0 4.2 0a2.1 2.1 0 1 0 -4.2 0M623.5 281.97a2.1 2.1 0 1 0 4.2 0a2.1 2.1 0 1 0 -4.2 0M625.9 281.76a2.1 2.1 0 1 0 4.2 0a2.1 2.1 0 1 0 -4.2 0M628.3 282.26a2.1 2.1 0 1 0 4.2 0a2.1 2.1 0 1 0 -4.2 0M630.7 283.05a2.1 2.1 0 1 0 4.2 0a2.1 2.1 0 1 0 -4.2 0M633.1 281.96a2.1 2.1 0 1 0 4.2 0a2.1 2.1 0 1 0 -4.2 0M635.5 281.8a2.1 2.1 0 1 0 4.2 0a2.1 2.1 0 1 0 -4.2 0M637.9 281.89a2.1 2.1 0 1 0 4.2 0a2.1 2.1 0 1 0 -4.2 0M640.3 282.42a2.1 2.1 0 1 0 4.2 0a2.1 2.1 0 1 0 -4.2 0M642.7 282.19a2.1 2.1 0 1 0 4.2 0a2.1 2.1 0 1 0 -4.2 0M645.1 282.97a2.1 2.1 0 1 0 4.2 0a2.1 2.1 0 1 0 -4.2 0M647.5 282.01a2.1 2.1 0 1 0 4.2 0a2.1 2.1 0 1 0 -4.2 0M649.9 282.41a2.1 2.1 0 1 0 4.2 0a2.1 2.1 0 1 0 -4.2 0" fill="#fff" stroke="#111" stroke-width="1.15"/>
<path d="M491 299.97a2.6 2.6 0 1 0 5.2 0a2.6 2.6 0 1 0 -5.2 0M492.76 306.78a2.6 2.6 0 1 0 5.2 0a2.6 2.6 0 1 0 -5.2 0M494.52 301.9a2.6 2.6 0 1 0 5.2 0a2.6 2.6 0 1 0 -5.2 0M496.28 301.06a2.6 2.6 0 1 0 5.2 0a2.6 2.6 0 1 0 -5.2 0M498.04 306.62a2.6 2.6 0 1 0 5.2 0a2.6 2.6 0 1 0 -5.2 0M499.8 302.23a2.6 2.6 0 1 0 5.2 0a2.6 2.6 0 1 0 -5.2 0M501.56 304.63a2.6 2.6 0 1 0 5.2 0a2.6 2.6 0 1 0 -5.2 0M503.32 306.24a2.6 2.6 0 1 0 5.2 0a2.6 2.6 0 1 0 -5.2 0M505.08 305.35a2.6 2.6 0 1 0 5.2 0a2.6 2.6 0 1 0 -5.2 0M506.84 300.54a2.6 2.6 0 1 0 5.2 0a2.6 2.6 0 1 0 -5.2 0M508.6 300.17a2.6 2.6 0 1 0 5.2 0a2.6 2.6 0 1 0 -5.2 0M510.36 303.15a2.6 2.6 0 1 0 5.2 0a2.6 2.6 0 1 0 -5.2 0M512.12 301.1a2.6 2.6 0 1 0 5.2 0a2.6 2.6 0 1 0 -5.2 0M513.88 303.15a2.6 2.6 0 1 0 5.2 0a2.6 2.6 0 1 0 -5.2 0M515.64 300.72a2.6 2.6 0 1 0 5.2 0a2.6 2.6 0 1 0 -5.2 0M517.4 302.12a2.6 2.6 0 1 0 5.2 0a2.6 2.6 0 1 0 -5.2 0M519.16 300.14a2.6 2.6 0 1 0 5.2 0a2.6 2.6 0 1 0 -5.2 0M520.92 299.78a2.6 2.6 0 1 0 5.2 0a2.6 2.6 0 1 0 -5.2 0M522.68 301.49a2.6 2.6 0 1 0 5.2 0a2.6 2.6 0 1 0 -5.2 0M524.44 299.71a2.6 2.6 0 1 0 5.2 0a2.6 2.6 0 1 0 -5.2 0M526.2 302.19a2.6 2.6 0 1 0 5.2 0a2.6 2.6 0 1 0 -5.2 0M527.96 303.03a2.6 2.6 0 1 0 5.2 0a2.6 2.6 0 1 0 -5.2 0M529.72 301.15a2.6 2.6 0 1 0 5.2 0a2.6 2.6 0 1 0 -5.2 0M531.48 303.2a2.6 2.6 0 1 0 5.2 0a2.6 2.6 0 1 0 -5.2 0M533.24 302.6a2.6 2.6 0 1 0 5.2 0a2.6 2.6 0 1 0 -5.2 0M535 301.84a2.6 2.6 0 1 0 5.2 0a2.6 2.6 0 1 0 -5.2 0M536.76 301.11a2.6 2.6 0 1 0 5.2 0a2.6 2.6 0 1 0 -5.2 0M538.52 302.75a2.6 2.6 0 1 0 5.2 0a2.6 2.6 0 1 0 -5.2 0M540.28 303.16a2.6 2.6 0 1 0 5.2 0a2.6 2.6 0 1 0 -5.2 0M542.04 300.18a2.6 2.6 0 1 0 5.2 0a2.6 2.6 0 1 0 -5.2 0M543.8 302.18a2.6 2.6 0 1 0 5.2 0a2.6 2.6 0 1 0 -5.2 0M545.56 299.86a2.6 2.6 0 1 0 5.2 0a2.6 2.6 0 1 0 -5.2 0M547.32 300.08a2.6 2.6 0 1 0 5.2 0a2.6 2.6 0 1 0 -5.2 0M549.08 301.95a2.6 2.6 0 1 0 5.2 0a2.6 2.6 0 1 0 -5.2 0M550.84 301.65a2.6 2.6 0 1 0 5.2 0a2.6 2.6 0 1 0 -5.2 0M552.6 301.44a2.6 2.6 0 1 0 5.2 0a2.6 2.6 0 1 0 -5.2 0M554.36 300.99a2.6 2.6 0 1 0 5.2 0a2.6 2.6 0 1 0 -5.2 0M556.12 301.16a2.6 2.6 0 1 0 5.2 0a2.6 2.6 0 1 0 -5.2 0M557.88 301.3a2.6 2.6 0 1 0 5.2 0a2.6 2.6 0 1 0 -5.2 0M559.64 301.08a2.6 2.6 0 1 0 5.2 0a2.6 2.6 0 1 0 -5.2 0M561.4 299.92a2.6 2.6 0 1 0 5.2 0a2.6 2.6 0 1 0 -5.2 0M563.16 301.48a2.6 2.6 0 1 0 5.2 0a2.6 2.6 0 1 0 -5.2 0M564.92 301.76a2.6 2.6 0 1 0 5.2 0a2.6 2.6 0 1 0 -5.2 0M566.68 300.72a2.6 2.6 0 1 0 5.2 0a2.6 2.6 0 1 0 -5.2 0M568.44 302.45a2.6 2.6 0 1 0 5.2 0a2.6 2.6 0 1 0 -5.2 0M570.2 302.23a2.6 2.6 0 1 0 5.2 0a2.6 2.6 0 1 0 -5.2 0M571.96 299.79a2.6 2.6 0 1 0 5.2 0a2.6 2.6 0 1 0 -5.2 0M573.72 301.43a2.6 2.6 0 1 0 5.2 0a2.6 2.6 0 1 0 -5.2 0M575.48 301.33a2.6 2.6 0 1 0 5.2 0a2.6 2.6 0 1 0 -5.2 0M577.24 303.27a2.6 2.6 0 1 0 5.2 0a2.6 2.6 0 1 0 -5.2 0M579 301.81a2.6 2.6 0 1 0 5.2 0a2.6 2.6 0 1 0 -5.2 0M580.76 301.22a2.6 2.6 0 1 0 5.2 0a2.6 2.6 0 1 0 -5.2 0M582.52 303.24a2.6 2.6 0 1 0 5.2 0a2.6 2.6 0 1 0 -5.2 0M584.28 301.09a2.6 2.6 0 1 0 5.2 0a2.6 2.6 0 1 0 -5.2 0M586.04 301.03a2.6 2.6 0 1 0 5.2 0a2.6 2.6 0 1 0 -5.2 0M587.8 303.09a2.6 2.6 0 1 0 5.2 0a2.6 2.6 0 1 0 -5.2 0M589.56 301.05a2.6 2.6 0 1 0 5.2 0a2.6 2.6 0 1 0 -5.2 0M591.32 301.63a2.6 2.6 0 1 0 5.2 0a2.6 2.6 0 1 0 -5.2 0M593.08 300.86a2.6 2.6 0 1 0 5.2 0a2.6 2.6 0 1 0 -5.2 0M594.84 302.04a2.6 2.6 0 1 0 5.2 0a2.6 2.6 0 1 0 -5.2 0M596.6 300.88a2.6 2.6 0 1 0 5.2 0a2.6 2.6 0 1 0 -5.2 0M598.36 300.9a2.6 2.6 0 1 0 5.2 0a2.6 2.6 0 1 0 -5.2 0M600.12 303.61a2.6 2.6 0 1 0 5.2 0a2.6 2.6 0 1 0 -5.2 0M601.88 303.6a2.6 2.6 0 1 0 5.2 0a2.6 2.6 0 1 0 -5.2 0M603.64 301.51a2.6 2.6 0 1 0 5.2 0a2.6 2.6 0 1 0 -5.2 0M605.4 300.6a2.6 2.6 0 1 0 5.2 0a2.6 2.6 0 1 0 -5.2 0M607.16 303.3a2.6 2.6 0 1 0 5.2 0a2.6 2.6 0 1 0 -5.2 0M608.92 302.69a2.6 2.6 0 1 0 5.2 0a2.6 2.6 0 1 0 -5.2 0M610.68 302.33a2.6 2.6 0 1 0 5.2 0a2.6 2.6 0 1 0 -5.2 0M612.44 303.44a2.6 2.6 0 1 0 5.2 0a2.6 2.6 0 1 0 -5.2 0M614.2 303.41a2.6 2.6 0 1 0 5.2 0a2.6 2.6 0 1 0 -5.2 0M615.96 303.72a2.6 2.6 0 1 0 5.2 0a2.6 2.6 0 1 0 -5.2 0M617.72 303.65a2.6 2.6 0 1 0 5.2 0a2.6 2.6 0 1 0 -5.2 0M619.48 302.96a2.6 2.6 0 1 0 5.2 0a2.6 2.6 0 1 0 -5.2 0M621.24 304.16a2.6 2.6 0 1 0 5.2 0a2.6 2.6 0 1 0 -5.2 0M623 304.01a2.6 2.6 0 1 0 5.2 0a2.6 2.6 0 1 0 -5.2 0M624.76 302.72a2.6 2.6 0 1 0 5.2 0a2.6 2.6 0 1 0 -5.2 0M626.52 305.53a2.6 2.6 0 1 0 5.2 0a2.6 2.6 0 1 0 -5.2 0M628.28 303.71a2.6 2.6 0 1 0 5.2 0a2.6 2.6 0 1 0 -5.2 0M630.04 303.24a2.6 2.6 0 1 0 5.2 0a2.6 2.6 0 1 0 -5.2 0M631.8 304.9a2.6 2.6 0 1 0 5.2 0a2.6 2.6 0 1 0 -5.2 0M633.56 305.34a2.6 2.6 0 1 0 5.2 0a2.6 2.6 0 1 0 -5.2 0M635.32 303.38a2.6 2.6 0 1 0 5.2 0a2.6 2.6 0 1 0 -5.2 0M637.08 305.54a2.6 2.6 0 1 0 5.2 0a2.6 2.6 0 1 0 -5.2 0M638.84 305.86a2.6 2.6 0 1 0 5.2 0a2.6 2.6 0 1 0 -5.2 0M640.6 305.09a2.6 2.6 0 1 0 5.2 0a2.6 2.6 0 1 0 -5.2 0M642.36 304.28a2.6 2.6 0 1 0 5.2 0a2.6 2.6 0 1 0 -5.2 0M644.12 306.55a2.6 2.6 0 1 0 5.2 0a2.6 2.6 0 1 0 -5.2 0M645.88 305.89a2.6 2.6 0 1 0 5.2 0a2.6 2.6 0 1 0 -5.2 0M647.64 305.98a2.6 2.6 0 1 0 5.2 0a2.6 2.6 0 1 0 -5.2 0M649.4 304.31a2.6 2.6 0 1 0 5.2 0a2.6 2.6 0 1 0 -5.2 0" fill="#e01020" stroke="#c80010" stroke-width="0.4"/>
<path d="M492.5 299.17h0.8M494.26 305.98h0.8M496.02 301.1h0.8M497.78 300.26h0.8M499.54 305.82h0.8M501.3 301.43h0.8M503.06 303.83h0.8M504.82 305.44h0.8M506.58 304.55h0.8M508.34 299.74h0.8M510.1 299.37h0.8M511.86 302.35h0.8M513.62 300.3h0.8M515.38 302.35h0.8M517.14 299.92h0.8M518.9 301.32h0.8M520.66 299.34h0.8M522.42 298.98h0.8M524.18 300.69h0.8M525.94 298.91h0.8M527.7 301.39h0.8M529.46 302.23h0.8M531.22 300.35h0.8M532.98 302.4h0.8M534.74 301.8h0.8M536.5 301.04h0.8M538.26 300.31h0.8M540.02 301.95h0.8M541.78 302.36h0.8M543.54 299.38h0.8M545.3 301.38h0.8M547.06 299.06h0.8M548.82 299.28h0.8M550.58 301.15h0.8M552.34 300.85h0.8M554.1 300.64h0.8M555.86 300.19h0.8M557.62 300.36h0.8M559.38 300.5h0.8M561.14 300.28h0.8M562.9 299.12h0.8M564.66 300.68h0.8M566.42 300.96h0.8M568.18 299.92h0.8M569.94 301.65h0.8M571.7 301.43h0.8M573.46 298.99h0.8M575.22 300.63h0.8M576.98 300.53h0.8M578.74 302.47h0.8M580.5 301.01h0.8M582.26 300.42h0.8M584.02 302.44h0.8M585.78 300.29h0.8M587.54 300.23h0.8M589.3 302.29h0.8M591.06 300.25h0.8M592.82 300.83h0.8M594.58 300.06h0.8M596.34 301.24h0.8M598.1 300.08h0.8M599.86 300.1h0.8M601.62 302.81h0.8M603.38 302.8h0.8M605.14 300.71h0.8M606.9 299.8h0.8M608.66 302.5h0.8M610.42 301.89h0.8M612.18 301.53h0.8M613.94 302.64h0.8M615.7 302.61h0.8M617.46 302.92h0.8M619.22 302.85h0.8M620.98 302.16h0.8M622.74 303.36h0.8M624.5 303.21h0.8M626.26 301.92h0.8M628.02 304.73h0.8M629.78 302.91h0.8M631.54 302.44h0.8M633.3 304.1h0.8M635.06 304.54h0.8M636.82 302.58h0.8M638.58 304.74h0.8M640.34 305.06h0.8M642.1 304.29h0.8M643.86 303.48h0.8M645.62 305.75h0.8M647.38 305.09h0.8M649.14 305.18h0.8M650.9 303.51h0.8" stroke="#fbd0d0" stroke-width="0.9" stroke-linecap="round"/>
<path d="M637.5 284.3V290.5H647.2" stroke="#111" stroke-width="1.0" fill="none"/>
<path d="M653.6 290.5L647.2 288.5L647.2 292.5Z" fill="#111"/>
<path d="M500.6 291.5H506.5V299.5" stroke="#e01020" stroke-width="1.0" fill="none"/>
<path d="M493.8 291.5L500.6 289.5L500.6 293.5Z" fill="#e01020"/>
<path d="M493.6 368.4v2.4M525.6 368.4v2.4M557.6 368.4v2.4M589.6 368.4v2.4M621.6 368.4v2.4M653.6 368.4v2.4M509.6 368.4v1.3M541.6 368.4v1.3M573.6 368.4v1.3M605.6 368.4v1.3M637.6 368.4v1.3M493.6 368.4h-2.4M493.6 342.67h-2.4M493.6 316.95h-2.4M493.6 291.22h-2.4M493.6 355.54h-1.3M493.6 329.81h-1.3M493.6 304.08h-1.3M653.6 368.4h2.4M653.6 351.1h2.4M653.6 333.81h2.4M653.6 316.51h2.4M653.6 299.21h2.4M653.6 281.92h2.4M653.6 359.75h1.3M653.6 342.46h1.3M653.6 325.16h1.3M653.6 307.86h1.3M653.6 290.57h1.3" stroke="#1a1a1a" stroke-width="1.25" fill="none"/>
<rect x="493.6" y="278.2" width="160" height="90.2" stroke="#1a1a1a" stroke-width="1.25" fill="none"/>
<text x="493.6" y="379.8" font-size="8.7" text-anchor="middle" fill="#151515" color="#151515" >0</text>
<text x="525.6" y="379.8" font-size="8.7" text-anchor="middle" fill="#151515" color="#151515" >200</text>
<text x="557.6" y="379.8" font-size="8.7" text-anchor="middle" fill="#151515" color="#151515" >400</text>
<text x="589.6" y="379.8" font-size="8.7" text-anchor="middle" fill="#151515" color="#151515" >600</text>
<text x="621.6" y="379.8" font-size="8.7" text-anchor="middle" fill="#151515" color="#151515" >800</text>
<text x="653.6" y="379.8" font-size="8.7" text-anchor="middle" fill="#151515" color="#151515" >1000</text>
<text x="489.3" y="371.53" font-size="8.7" text-anchor="end" fill="#151515" color="#151515" >0</text>
<text x="489.3" y="345.8" font-size="8.7" text-anchor="end" fill="#151515" color="#151515" >50</text>
<text x="489.3" y="320.08" font-size="8.7" text-anchor="end" fill="#151515" color="#151515" >100</text>
<text x="489.3" y="294.35" font-size="8.7" text-anchor="end" fill="#151515" color="#151515" >150</text>
<text x="657.9" y="371.53" font-size="8.7" text-anchor="start" fill="#151515" color="#151515" >0</text>
<text x="657.9" y="354.24" font-size="8.7" text-anchor="start" fill="#151515" color="#151515" >20</text>
<text x="657.9" y="336.94" font-size="8.7" text-anchor="start" fill="#151515" color="#151515" >40</text>
<text x="657.9" y="319.64" font-size="8.7" text-anchor="start" fill="#151515" color="#151515" >60</text>
<text x="657.9" y="302.35" font-size="8.7" text-anchor="start" fill="#151515" color="#151515" >80</text>
<text x="657.9" y="285.05" font-size="8.7" text-anchor="start" fill="#151515" color="#151515" >100</text>
<text x="566.2" y="293.7" font-size="9.6" text-anchor="middle" fill="#151515" color="#151515" >N:P=1.05</text>
<text x="623.7" y="298.8" font-size="10.5" text-anchor="middle" fill="#151515" color="#151515" >96.1%</text>
<text x="641.7" y="318.9" font-size="10.5" text-anchor="middle" fill="#151515" color="#151515" >2C</text>
<circle cx="618.6" cy="349.2" r="2.4" fill="#e01020"/>
<circle cx="618" cy="348.6" r="0.84" fill="#f7c0c0"/>
<text x="628.8" y="352.3" font-size="10.0" text-anchor="start" fill="#151515" color="#151515" >KVO</text>
<text x="634.6" y="365.7" font-size="10.2" text-anchor="middle" fill="#151515" color="#151515" >Full cell</text>
<rect x="532.5" y="309.6" width="80.3" height="44.7" fill="#fff"/>
<path d="M532.5 344.65 C533 343.91 534.17 341.87 535.51 340.18 C536.85 338.5 539.02 336.07 540.53 334.54 C542.04 333.01 543.11 332.03 544.54 331.01 C545.98 329.99 547.66 329.15 549.16 328.42 C550.67 327.7 552.14 327.23 553.58 326.66 C555.02 326.09 555.62 325.5 557.79 325.01 C559.97 324.52 563.75 324.13 566.63 323.72 C569.5 323.3 572.22 322.93 575.06 322.54 C577.9 322.15 580.81 321.79 583.69 321.36 C586.57 320.93 589.48 320.44 592.32 319.95 C595.17 319.46 597.84 318.99 600.75 318.42 C603.67 317.85 608.28 316.85 609.79 316.54" stroke="#e8343c" stroke-width="0.8" fill="none" stroke-linejoin="round" />
<path d="M532.5 315.72 C533.17 316.07 535.18 317.13 536.51 317.83 C537.85 318.54 538.86 319.13 540.53 319.95 C542.2 320.78 544.51 321.77 546.55 322.77 C548.59 323.77 550.6 324.81 552.78 325.95 C554.95 327.09 557.29 328.34 559.6 329.6 C561.91 330.85 564.79 332.4 566.63 333.48 C568.47 334.56 569.24 335.2 570.64 336.07 C572.05 336.93 573.39 338.01 575.06 338.66 C576.73 339.3 578.64 339.52 580.68 339.95 C582.72 340.38 585.3 340.71 587.3 341.24 C589.31 341.77 590.85 342.44 592.72 343.12 C594.6 343.81 597.58 344.99 598.55 345.36" stroke="#e8343c" stroke-width="0.8" fill="none" stroke-linejoin="round" />
<path d="M532.9 326.66Q533.3 334.3 533.7 334.77L560.61 334.77Q563.01 334.3 564.22 330.19L566.23 326.07" stroke="#29abe2" stroke-width="0.9" fill="none"/>
<path d="M532.7 346.07L532.9 328.42M533.1 335.95L558.6 335.95Q561.01 336.66 562.01 341.36L562.61 346.07" stroke="#29abe2" stroke-width="0.9" fill="none"/>
<path d="M532.5 354.3v1.5M552.58 354.3v1.5M572.65 354.3v1.5M592.72 354.3v1.5M612.8 354.3v1.5M542.54 354.3v0.9M562.61 354.3v0.9M582.69 354.3v0.9M602.76 354.3v0.9M532.5 344.89h-1.5M532.5 333.13h-1.5M532.5 321.36h-1.5M532.5 309.6h-1.5M532.5 350.77h-0.9M532.5 339.01h-0.9M532.5 327.24h-0.9M532.5 315.48h-0.9" stroke="#1a1a1a" stroke-width="0.8" fill="none"/>
<rect x="532.5" y="309.6" width="80.3" height="44.7" stroke="#1a1a1a" stroke-width="0.8" fill="none"/>
<text x="532.5" y="360.6" font-size="5.1" text-anchor="middle" fill="#151515" color="#151515" >0</text>
<text x="552.58" y="360.6" font-size="5.1" text-anchor="middle" fill="#151515" color="#151515" >100</text>
<text x="572.65" y="360.6" font-size="5.1" text-anchor="middle" fill="#151515" color="#151515" >200</text>
<text x="592.72" y="360.6" font-size="5.1" text-anchor="middle" fill="#151515" color="#151515" >300</text>
<text x="612.8" y="360.6" font-size="5.1" text-anchor="middle" fill="#151515" color="#151515" >400</text>
<text x="530.1" y="346.73" font-size="5.1" text-anchor="end" fill="#151515" color="#151515" >1</text>
<text x="530.1" y="334.96" font-size="5.1" text-anchor="end" fill="#151515" color="#151515" >2</text>
<text x="530.1" y="323.2" font-size="5.1" text-anchor="end" fill="#151515" color="#151515" >3</text>
<text x="530.1" y="311.44" font-size="5.1" text-anchor="end" fill="#151515" color="#151515" >4</text>
<path d="M533.1 311.6h8.9" stroke="#e8343c" stroke-width="0.8"/><path d="M533.1 317.1h8.9" stroke="#29abe2" stroke-width="1.0"/>
<text x="543.1" y="313.1" font-size="4.3" text-anchor="start" fill="#555" color="#555" >KVO||LiFePO<tspan font-size="3" dy="0.8">4</tspan></text>
<text x="543.1" y="318.6" font-size="4.3" text-anchor="start" fill="#555" color="#555" >Li<tspan font-size="3" dy="0.8">4</tspan><tspan dy="-0.8">Ti</tspan><tspan font-size="3" dy="0.8">5</tspan><tspan dy="-0.8">O</tspan><tspan font-size="3" dy="0.8">12</tspan><tspan dy="-0.8">||LiFePO</tspan><tspan font-size="3" dy="0.8">4</tspan></text>
<text x="573.5" y="329.5" font-size="6.2" text-anchor="start" fill="#e8343c" color="#e8343c" >C<tspan font-size="3.6" dy="1">a</tspan><tspan dy="-1">×V</tspan><tspan font-size="3.6" dy="1">apr</tspan></text>
<path d="M573 332.3h15.5" stroke="#444" stroke-width="0.5"/>
<text x="573.5" y="338.2" font-size="6.2" text-anchor="start" fill="#29abe2" color="#29abe2" >C<tspan font-size="3.6" dy="1">c</tspan><tspan dy="-1">×V</tspan><tspan font-size="3.6" dy="1">cath</tspan></text>
<text x="590" y="334.6" font-size="5.8" text-anchor="start" fill="#222" color="#222" >= 3.5</text>
<text x="576.5" y="366.6" font-size="6.0" text-anchor="middle" fill="#151515" color="#151515" >Specific capacity (mAh g<tspan dy="-2.28" font-size="3.72">-1</tspan><tspan dy="2.28">)</tspan></text>
<text transform="translate(524.8 334.3) rotate(-90)" font-size="5.4" text-anchor="middle" fill="#151515" color="#151515">Voltage (V)</text>
<text x="573.2" y="386.5" font-size="9.1" text-anchor="middle" fill="#151515" color="#151515" >Cycle number</text>
<text transform="translate(471.3 324.25) rotate(-90)" font-size="8.92" text-anchor="middle" fill="#151515" color="#151515">Specific capacity (mAh g<tspan dy="-3.39" font-size="5.53">-1</tspan><tspan dy="3.39">)</tspan></text>
<text transform="translate(681 323.35) rotate(-90)" font-size="9.12" text-anchor="middle" fill="#151515" color="#151515">Coulombic efficiency (%)</text>
<path d="M515.3 170.8H525.4V186" stroke="#6272b8" stroke-width="0.7" fill="none"/><path d="M525.4 189l-1.3 -3.4h2.6z" fill="#6272b8"/>
<path d="M515.3 173.9H506" stroke="#f5821f" stroke-width="0.8" fill="none"/><path d="M503 173.9l3.4 -1.3v2.6z" fill="#f5821f"/>
<path d="M516 185.9H511.3V201" stroke="#9a9a20" stroke-width="0.7" fill="none"/><path d="M511.3 204l-1.3 -3.4h2.6z" fill="#9a9a20"/>
<circle cx="508.4" cy="158.8" r="2.5" fill="#a6d38a"/>
<circle cx="507.7" cy="158.1" r="0.95" fill="#ffffff" opacity="0.55"/>
<circle cx="508.4" cy="162" r="2.5" fill="#43bcd0"/>
<circle cx="507.7" cy="161.3" r="0.95" fill="#ffffff" opacity="0.55"/>
<circle cx="515.3" cy="170.8" r="2.5" fill="#5a6bb5"/>
<circle cx="514.6" cy="170.1" r="0.95" fill="#ffffff" opacity="0.55"/>
<circle cx="515.3" cy="173.9" r="2.5" fill="#f5821f"/>
<circle cx="514.6" cy="173.2" r="0.95" fill="#ffffff" opacity="0.55"/>
<circle cx="515.3" cy="178.5" r="2.5" fill="#2a6fb0"/>
<circle cx="514.6" cy="177.8" r="0.95" fill="#ffffff" opacity="0.55"/>
<circle cx="518.3" cy="180.8" r="2.5" fill="#3aa048"/>
<circle cx="517.6" cy="180.1" r="0.95" fill="#ffffff" opacity="0.55"/>
<circle cx="516" cy="185.9" r="2.5" fill="#9a9a1e"/>
<circle cx="515.3" cy="185.2" r="0.95" fill="#ffffff" opacity="0.55"/>
<circle cx="516" cy="193.5" r="2.5" fill="#25c8d8"/>
<circle cx="515.3" cy="192.8" r="0.95" fill="#ffffff" opacity="0.55"/>
<circle cx="543.8" cy="165.7" r="2.5" fill="#2424d0"/>
<circle cx="543.1" cy="165" r="0.95" fill="#ffffff" opacity="0.55"/>
<circle cx="548.4" cy="170.8" r="2.5" fill="#9a5fd0"/>
<circle cx="547.7" cy="170.1" r="0.95" fill="#ffffff" opacity="0.55"/>
<circle cx="565.4" cy="166.2" r="2.5" fill="#333333"/>
<circle cx="564.7" cy="165.5" r="0.95" fill="#ffffff" opacity="0.55"/>
<circle cx="565.4" cy="173.3" r="2.5" fill="#8c8cf0"/>
<circle cx="564.7" cy="172.6" r="0.95" fill="#ffffff" opacity="0.55"/>
<circle cx="536.4" cy="192.1" r="2.5" fill="#7a4040"/>
<circle cx="535.7" cy="191.4" r="0.95" fill="#ffffff" opacity="0.55"/>
<circle cx="565.5" cy="207.5" r="2.5" fill="#f0821e"/>
<circle cx="564.8" cy="206.8" r="0.95" fill="#ffffff" opacity="0.55"/>
<circle cx="565.5" cy="210.5" r="2.5" fill="#8a1a8a"/>
<circle cx="564.8" cy="209.8" r="0.95" fill="#ffffff" opacity="0.55"/>
<circle cx="565.5" cy="213.7" r="2.5" fill="#d030d0"/>
<circle cx="564.8" cy="213" r="0.95" fill="#ffffff" opacity="0.55"/>
<circle cx="550.7" cy="230.6" r="2.5" fill="#d84050"/>
<circle cx="550" cy="229.9" r="0.95" fill="#ffffff" opacity="0.55"/>
<circle cx="600.2" cy="222" r="2.5" fill="#f5a8e8"/>
<circle cx="599.5" cy="221.3" r="0.95" fill="#ffffff" opacity="0.55"/>
<polygon points="565.7,148 566.65,150.29 569.12,150.49 567.24,152.1 567.82,154.51 565.7,153.22 563.58,154.51 564.16,152.1 562.28,150.49 564.75,150.29" fill="none" stroke="#ee1111" stroke-width="0.8"/>
<polygon points="629.3,162.4 630.25,164.69 632.72,164.89 630.84,166.5 631.42,168.91 629.3,167.62 627.18,168.91 627.76,166.5 625.88,164.89 628.35,164.69" fill="none" stroke="#ee1111" stroke-width="0.8"/>
<text x="572" y="153.8" font-size="5.9" fill="#ee1111" color="#ee1111">This work</text>
<text x="616.5" y="159.8" font-size="5.9" fill="#ee1111" color="#ee1111">This work</text>
<text x="512.5" y="155.1" font-size="5.6" fill="#a6d38a" color="#a6d38a">V<tspan font-size="3.47" dy="1.23">3</tspan><tspan dy="-1.23">​</tspan>Nb<tspan font-size="3.47" dy="1.23">17</tspan><tspan dy="-1.23">​</tspan>O<tspan font-size="3.47" dy="1.23">50</tspan><tspan dy="-1.23">​</tspan></text>
<text x="517.2" y="162.2" font-size="5.2" fill="#43bcd0" color="#43bcd0">Li<tspan font-size="3.22" dy="1.14">0.08</tspan><tspan dy="-1.14">​</tspan>Cr<tspan font-size="3.22" dy="1.14">0.02</tspan><tspan dy="-1.14">​</tspan>Si<tspan font-size="3.22" dy="1.14">0.36</tspan><tspan dy="-1.14">​</tspan>V<tspan font-size="3.22" dy="1.14">2.9</tspan><tspan dy="-1.14">​</tspan>O<tspan font-size="3.22" dy="1.14">8</tspan><tspan dy="-1.14">​</tspan></text>
<text x="527.6" y="169.7" font-size="5.6" fill="#2424d0" color="#2424d0">H<tspan font-size="3.47" dy="1.23">11</tspan><tspan dy="-1.23">​</tspan>Al<tspan font-size="3.47" dy="1.23">2</tspan><tspan dy="-1.23">​</tspan>V<tspan font-size="3.47" dy="1.23">6</tspan><tspan dy="-1.23">​</tspan>O<tspan font-size="3.47" dy="1.23">23.2</tspan><tspan dy="-1.23">​</tspan></text>
<text x="543.8" y="180.1" font-size="5.6" fill="#9a5fd0" color="#9a5fd0">VNb<tspan font-size="3.47" dy="1.23">9</tspan><tspan dy="-1.23">​</tspan>O<tspan font-size="3.47" dy="1.23">25</tspan><tspan dy="-1.23">​</tspan></text>
<text x="573.4" y="168.3" font-size="5.6" fill="#222" color="#222">TiO<tspan font-size="3.47" dy="1.23">2</tspan><tspan dy="-1.23">​</tspan></text>
<text x="574.1" y="175" font-size="5.6" fill="#8c8cf0" color="#8c8cf0">NaV<tspan font-size="3.47" dy="1.23">1.25</tspan><tspan dy="-1.23">​</tspan>Ti<tspan font-size="3.47" dy="1.23">0.75</tspan><tspan dy="-1.23">​</tspan>O<tspan font-size="3.47" dy="1.23">4</tspan><tspan dy="-1.23">​</tspan></text>
<text x="542.6" y="193.3" font-size="5.6" fill="#7a4040" color="#7a4040">Na<tspan font-size="3.47" dy="1.23">0.66</tspan><tspan dy="-1.23">​</tspan>Li<tspan font-size="3.47" dy="1.23">0.22</tspan><tspan dy="-1.23">​</tspan>Ti<tspan font-size="3.47" dy="1.23">0.78</tspan><tspan dy="-1.23">​</tspan>O<tspan font-size="3.47" dy="1.23">2</tspan><tspan dy="-1.23">​</tspan></text>
<text x="571.1" y="208.9" font-size="5.6" fill="#f0821e" color="#f0821e">TiO<tspan font-size="3.47" dy="1.23">2</tspan><tspan dy="-1.23">​</tspan></text>
<text x="539.6" y="212.8" font-size="5.6" fill="#8a1a8a" color="#8a1a8a">TiNb<tspan font-size="3.47" dy="1.23">2</tspan><tspan dy="-1.23">​</tspan>O<tspan font-size="3.47" dy="1.23">7</tspan><tspan dy="-1.23">​</tspan></text>
<text x="571.1" y="216.5" font-size="5.6" fill="#d030d0" color="#d030d0">Li<tspan font-size="3.47" dy="1.23">2</tspan><tspan dy="-1.23">​</tspan>TiSiO<tspan font-size="3.47" dy="1.23">5</tspan><tspan dy="-1.23">​</tspan></text>
<text x="606.5" y="224.4" font-size="5.6" fill="#f5a8e8" color="#f5a8e8">Na<tspan font-size="3.47" dy="1.23">3</tspan><tspan dy="-1.23">​</tspan>V<tspan font-size="3.47" dy="1.23">2</tspan><tspan dy="-1.23">​</tspan>(PO<tspan font-size="3.47" dy="1.23">4</tspan><tspan dy="-1.23">​</tspan>)<tspan font-size="3.47" dy="1.23">3</tspan><tspan dy="-1.23">​</tspan></text>
<text x="557" y="232.6" font-size="5.4" fill="#d84050" color="#d84050">K<tspan font-size="3.35" dy="1.19">1.81</tspan><tspan dy="-1.19">​</tspan>Ni(Fe(CN)<tspan font-size="3.35" dy="1.19">6</tspan><tspan dy="-1.19">​</tspan>)<tspan font-size="3.35" dy="1.19">0.97</tspan><tspan dy="-1.19">​</tspan>·0.086H<tspan font-size="3.35" dy="1.19">2</tspan><tspan dy="-1.19">​</tspan>O</text>
<text transform="translate(500.3 183.6) rotate(-90)" font-size="5.6" fill="#f5821f" color="#f5821f" text-anchor="middle">Na<tspan font-size="3.47" dy="1.23">2/3</tspan><tspan dy="-1.23">​</tspan>Co<tspan font-size="3.47" dy="1.23">1/3</tspan><tspan dy="-1.23">​</tspan>Ti<tspan font-size="3.47" dy="1.23">2/3</tspan><tspan dy="-1.23">​</tspan>O<tspan font-size="3.47" dy="1.23">2</tspan><tspan dy="-1.23">​</tspan></text>
<text transform="translate(507 198.5) rotate(-90)" font-size="5.6" fill="#2a6fb0" color="#2a6fb0" text-anchor="middle">Li<tspan font-size="3.47" dy="1.23">0.2</tspan><tspan dy="-1.23">​</tspan>Li<tspan font-size="3.47" dy="1.23">4/3</tspan><tspan dy="-1.23">​</tspan>TiO<tspan font-size="3.47" dy="1.23">3</tspan><tspan dy="-1.23">​</tspan></text>
<text transform="translate(513.4 216.5) rotate(-90)" font-size="5.6" fill="#9a9a1e" color="#9a9a1e" text-anchor="middle">LiFePO<tspan font-size="3.47" dy="1.23">4</tspan><tspan dy="-1.23">​</tspan></text>
<text transform="translate(522.2 217.6) rotate(-90)" font-size="5.4" fill="#25c8d8" color="#25c8d8" text-anchor="middle">KV<tspan font-size="3.35" dy="1.19">2</tspan><tspan dy="-1.19">​</tspan>O<tspan font-size="3.35" dy="1.19">2</tspan><tspan dy="-1.19">​</tspan>PO<tspan font-size="3.35" dy="1.19">4</tspan><tspan dy="-1.19">​</tspan>·3.2H<tspan font-size="3.35" dy="1.19">2</tspan><tspan dy="-1.19">​</tspan>O</text>
<text transform="translate(527.6 214.5) rotate(-90)" font-size="5.4" fill="#6272b8" color="#6272b8" text-anchor="middle">Na<tspan font-size="3.35" dy="1.19">3</tspan><tspan dy="-1.19">​</tspan>Ti<tspan font-size="3.35" dy="1.19">0.5</tspan><tspan dy="-1.19">​</tspan>V<tspan font-size="3.35" dy="1.19">1.5</tspan><tspan dy="-1.19">​</tspan>(PO<tspan font-size="3.35" dy="1.19">4</tspan><tspan dy="-1.19">​</tspan>)<tspan font-size="3.35" dy="1.19">3</tspan><tspan dy="-1.19">​</tspan>N</text>
<text transform="translate(532.2 181.6) rotate(-90)" font-size="5.6" fill="#3aa048" color="#3aa048" text-anchor="middle">Nb<tspan font-size="3.47" dy="1.23">2</tspan><tspan dy="-1.23">​</tspan>O<tspan font-size="3.47" dy="1.23">5</tspan><tspan dy="-1.23">​</tspan></text>
<path d="M494.4 237.4v2.4M529.98 237.4v2.4M565.56 237.4v2.4M601.13 237.4v2.4M636.71 237.4v2.4M512.19 237.4v1.3M547.77 237.4v1.3M583.34 237.4v1.3M618.92 237.4v1.3M654.5 237.4v1.3M494.4 226.48h-2.4M494.4 205.06h-2.4M494.4 183.65h-2.4M494.4 162.23h-2.4M494.4 237.19h-1.3M494.4 215.77h-1.3M494.4 194.36h-1.3M494.4 172.94h-1.3M494.4 151.53h-1.3" stroke="#1a1a1a" stroke-width="1.25" fill="none"/>
<rect x="494.4" y="146.6" width="160.1" height="90.8" stroke="#1a1a1a" stroke-width="1.25" fill="none"/>
<text x="494.4" y="246.9" font-size="9.3" text-anchor="middle" fill="#151515" color="#151515" >0</text>
<text x="529.98" y="246.9" font-size="9.3" text-anchor="middle" fill="#151515" color="#151515" >5000</text>
<text x="565.56" y="246.9" font-size="9.3" text-anchor="middle" fill="#151515" color="#151515" >10000</text>
<text x="601.13" y="246.9" font-size="9.3" text-anchor="middle" fill="#151515" color="#151515" >15000</text>
<text x="636.71" y="246.9" font-size="9.3" text-anchor="middle" fill="#151515" color="#151515" >20000</text>
<text x="491.6" y="229.83" font-size="9.3" text-anchor="end" fill="#151515" color="#151515" >60</text>
<text x="491.6" y="208.41" font-size="9.3" text-anchor="end" fill="#151515" color="#151515" >70</text>
<text x="491.6" y="187" font-size="9.3" text-anchor="end" fill="#151515" color="#151515" >80</text>
<text x="491.6" y="165.58" font-size="9.3" text-anchor="end" fill="#151515" color="#151515" >90</text>
<text x="575.2" y="256.3" font-size="9.0" text-anchor="middle" fill="#151515" color="#151515" >Cycle number</text>
<text transform="translate(476 194.15) rotate(-90)" font-size="8.95" text-anchor="middle" fill="#151515" color="#151515">Capacity retention (%)</text>
</svg>
</body></html>
